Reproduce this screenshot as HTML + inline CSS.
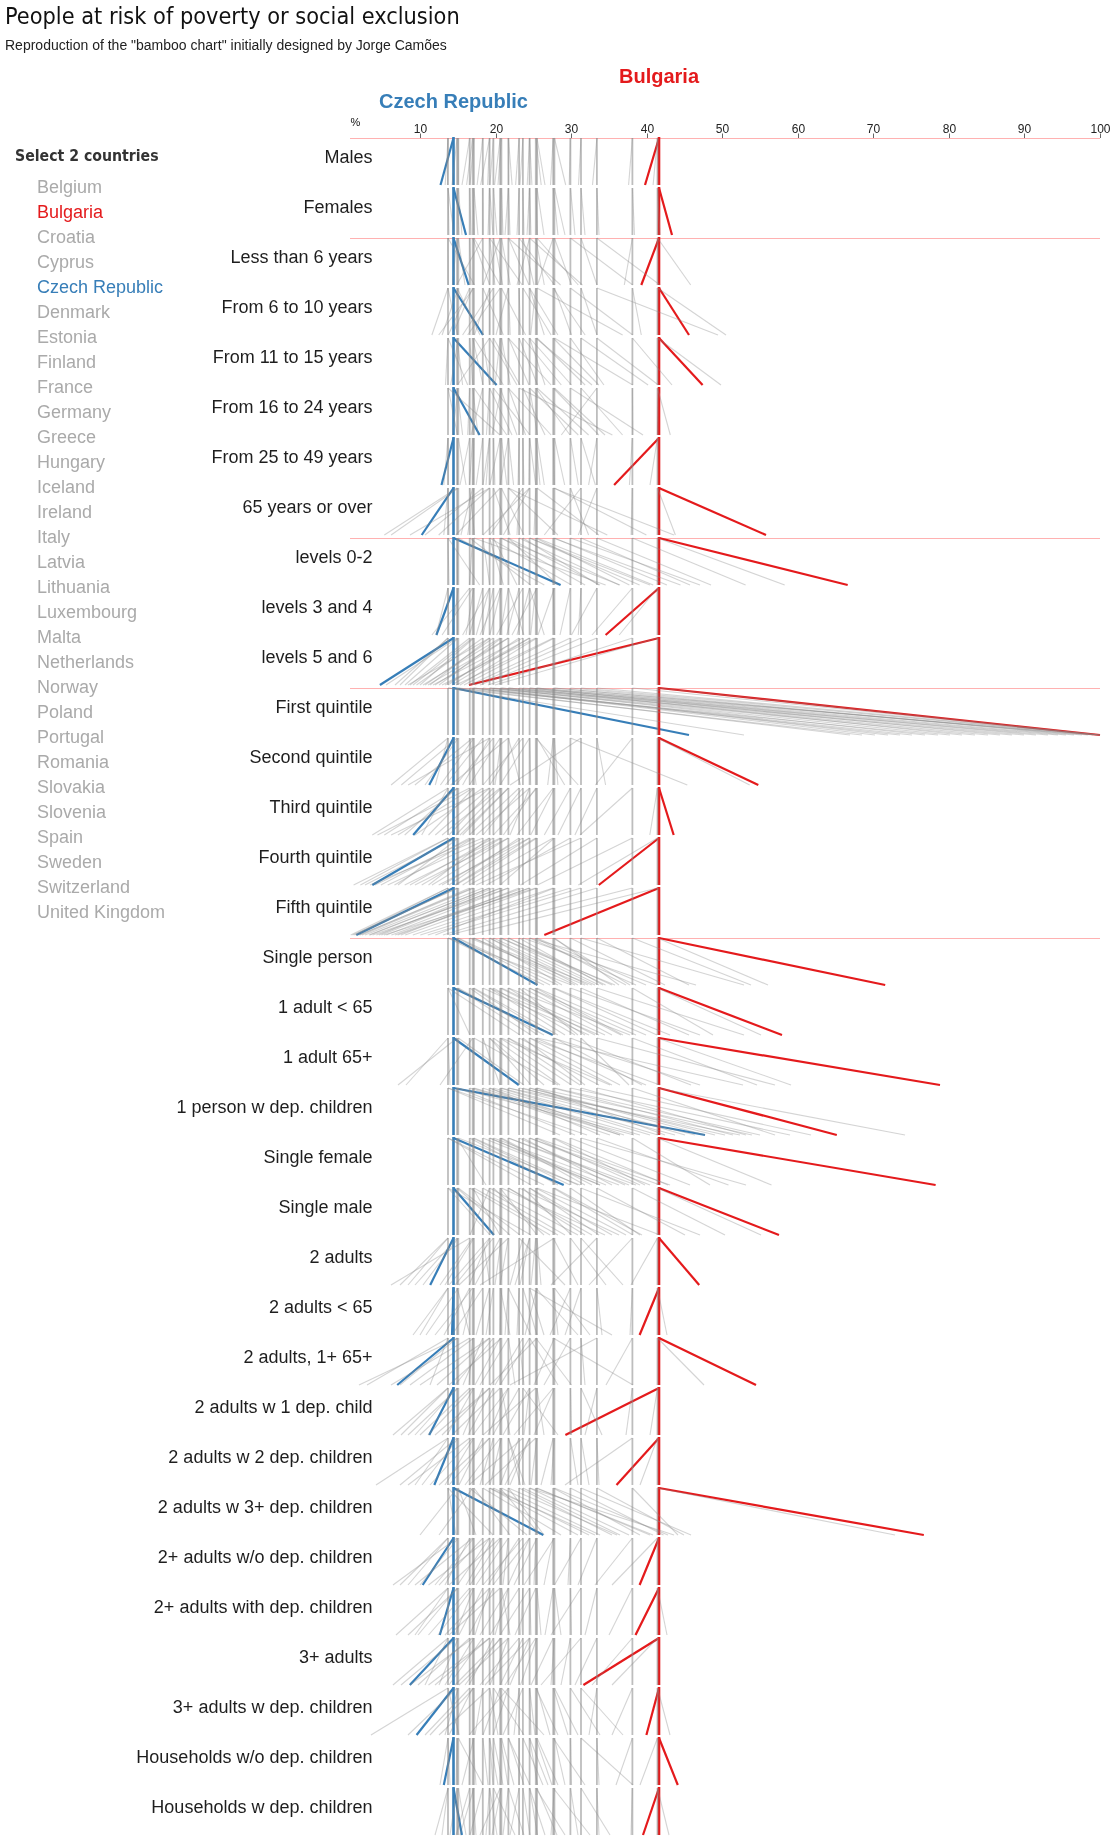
<!DOCTYPE html>
<html><head><meta charset="utf-8"><title>People at risk of poverty or social exclusion</title>
<style>
html,body{margin:0;padding:0;background:#fff;width:1116px;height:1843px;overflow:hidden;position:relative;-webkit-font-smoothing:antialiased}
#wrap{position:absolute;left:0;top:0;width:1116px;height:1843px;will-change:transform}
.t{position:absolute;left:5px;top:0;font-family:"DejaVu Sans Condensed","DejaVu Sans",sans-serif;font-stretch:condensed;font-size:23.3px;color:#111;white-space:nowrap;line-height:1}
.s{position:absolute;left:5px;font-family:"Liberation Sans",Arial,sans-serif;font-size:14px;color:#222;white-space:nowrap;line-height:1}
.h{position:absolute;left:15px;font-family:"DejaVu Sans Condensed","DejaVu Sans",sans-serif;font-stretch:condensed;font-weight:bold;font-size:15.7px;color:#333;white-space:nowrap;line-height:1}
.c{position:absolute;left:37px;font-family:"Liberation Sans",Arial,sans-serif;font-size:18px;white-space:nowrap;line-height:1}
</style></head><body><div id="wrap">
<div class="t" style="top:3.7px">People at risk of poverty or social exclusion</div>
<div class="s" style="top:38px">Reproduction of the "bamboo chart" initially designed by Jorge Camões</div>
<div class="h" style="top:147.7px">Select 2 countries</div>
<div class="c" style="top:177.55px;color:#aaa">Belgium</div><div class="c" style="top:202.55px;color:#e41a1c">Bulgaria</div><div class="c" style="top:227.55px;color:#aaa">Croatia</div><div class="c" style="top:252.55px;color:#aaa">Cyprus</div><div class="c" style="top:277.55px;color:#377eb8">Czech Republic</div><div class="c" style="top:302.55px;color:#aaa">Denmark</div><div class="c" style="top:327.55px;color:#aaa">Estonia</div><div class="c" style="top:352.55px;color:#aaa">Finland</div><div class="c" style="top:377.55px;color:#aaa">France</div><div class="c" style="top:402.55px;color:#aaa">Germany</div><div class="c" style="top:427.55px;color:#aaa">Greece</div><div class="c" style="top:452.55px;color:#aaa">Hungary</div><div class="c" style="top:477.55px;color:#aaa">Iceland</div><div class="c" style="top:502.55px;color:#aaa">Ireland</div><div class="c" style="top:527.55px;color:#aaa">Italy</div><div class="c" style="top:552.55px;color:#aaa">Latvia</div><div class="c" style="top:577.55px;color:#aaa">Lithuania</div><div class="c" style="top:602.55px;color:#aaa">Luxembourg</div><div class="c" style="top:627.55px;color:#aaa">Malta</div><div class="c" style="top:652.55px;color:#aaa">Netherlands</div><div class="c" style="top:677.55px;color:#aaa">Norway</div><div class="c" style="top:702.55px;color:#aaa">Poland</div><div class="c" style="top:727.55px;color:#aaa">Portugal</div><div class="c" style="top:752.55px;color:#aaa">Romania</div><div class="c" style="top:777.55px;color:#aaa">Slovakia</div><div class="c" style="top:802.55px;color:#aaa">Slovenia</div><div class="c" style="top:827.55px;color:#aaa">Spain</div><div class="c" style="top:852.55px;color:#aaa">Sweden</div><div class="c" style="top:877.55px;color:#aaa">Switzerland</div><div class="c" style="top:902.55px;color:#aaa">United Kingdom</div>
<svg width="1116" height="1843" viewBox="0 0 1116 1843" style="position:absolute;left:0;top:0">
<g font-family="Liberation Sans, Arial, sans-serif" font-size="12" fill="#222" text-anchor="middle">
<text x="420.50" y="133">10</text>
<text x="496.50" y="133">20</text>
<text x="571.50" y="133">30</text>
<text x="647.50" y="133">40</text>
<text x="722.50" y="133">50</text>
<text x="798.50" y="133">60</text>
<text x="873.50" y="133">70</text>
<text x="949.50" y="133">80</text>
<text x="1024.50" y="133">90</text>
<text x="1100.50" y="133">100</text>
</g>
<g stroke="#666" stroke-width="1">
<line x1="420.5" y1="133.5" x2="420.5" y2="138"/>
<line x1="496.5" y1="133.5" x2="496.5" y2="138"/>
<line x1="571.5" y1="133.5" x2="571.5" y2="138"/>
<line x1="647.5" y1="133.5" x2="647.5" y2="138"/>
<line x1="722.5" y1="133.5" x2="722.5" y2="138"/>
<line x1="798.5" y1="133.5" x2="798.5" y2="138"/>
<line x1="873.5" y1="133.5" x2="873.5" y2="138"/>
<line x1="949.5" y1="133.5" x2="949.5" y2="138"/>
<line x1="1024.5" y1="133.5" x2="1024.5" y2="138"/>
<line x1="1100.5" y1="133.5" x2="1100.5" y2="138"/>
</g>
<text x="350.6" y="126" font-family="Liberation Sans, Arial, sans-serif" font-size="11" fill="#111">%</text>
<line x1="350" y1="138.5" x2="1100" y2="138.5" stroke="#ffb1b1" stroke-width="1"/>
<line x1="350" y1="238.5" x2="1100" y2="238.5" stroke="#ffb1b1" stroke-width="1"/>
<line x1="350" y1="538.5" x2="1100" y2="538.5" stroke="#ffb1b1" stroke-width="1"/>
<line x1="350" y1="688.5" x2="1100" y2="688.5" stroke="#ffb1b1" stroke-width="1"/>
<line x1="350" y1="938.5" x2="1100" y2="938.5" stroke="#ffb1b1" stroke-width="1"/>
<g font-family="Liberation Sans, Arial, sans-serif" font-size="18" fill="#1e1e1e" text-anchor="end">
<text x="372.5" y="162.8">Males</text>
<text x="372.5" y="212.8">Females</text>
<text x="372.5" y="262.8">Less than 6 years</text>
<text x="372.5" y="312.8">From 6 to 10 years</text>
<text x="372.5" y="362.8">From 11 to 15 years</text>
<text x="372.5" y="412.8">From 16 to 24 years</text>
<text x="372.5" y="462.8">From 25 to 49 years</text>
<text x="372.5" y="512.8">65 years or over</text>
<text x="372.5" y="562.8">levels 0-2</text>
<text x="372.5" y="612.8">levels 3 and 4</text>
<text x="372.5" y="662.8">levels 5 and 6</text>
<text x="372.5" y="712.8">First quintile</text>
<text x="372.5" y="762.8">Second quintile</text>
<text x="372.5" y="812.8">Third quintile</text>
<text x="372.5" y="862.8">Fourth quintile</text>
<text x="372.5" y="912.8">Fifth quintile</text>
<text x="372.5" y="962.8">Single person</text>
<text x="372.5" y="1012.8">1 adult &lt; 65</text>
<text x="372.5" y="1062.8">1 adult 65+</text>
<text x="372.5" y="1112.8">1 person w dep. children</text>
<text x="372.5" y="1162.8">Single female</text>
<text x="372.5" y="1212.8">Single male</text>
<text x="372.5" y="1262.8">2 adults</text>
<text x="372.5" y="1312.8">2 adults &lt; 65</text>
<text x="372.5" y="1362.8">2 adults, 1+ 65+</text>
<text x="372.5" y="1412.8">2 adults w 1 dep. child</text>
<text x="372.5" y="1462.8">2 adults w 2 dep. children</text>
<text x="372.5" y="1512.8">2 adults w 3+ dep. children</text>
<text x="372.5" y="1562.8">2+ adults w/o dep. children</text>
<text x="372.5" y="1612.8">2+ adults with dep. children</text>
<text x="372.5" y="1662.8">3+ adults</text>
<text x="372.5" y="1712.8">3+ adults w dep. children</text>
<text x="372.5" y="1762.8">Households w/o dep. children</text>
<text x="372.5" y="1812.8">Households w dep. children</text>
</g>
<line x1="453.5" y1="138" x2="440.5" y2="185" stroke="#377eb8" stroke-width="2.2"/>
<line x1="453.5" y1="137" x2="453.5" y2="185" stroke="#377eb8" stroke-width="2.6"/>
<line x1="453.5" y1="188" x2="466" y2="235" stroke="#377eb8" stroke-width="2.2"/>
<line x1="453.5" y1="187" x2="453.5" y2="235" stroke="#377eb8" stroke-width="2.6"/>
<line x1="453.5" y1="238" x2="468.7" y2="285" stroke="#377eb8" stroke-width="2.2"/>
<line x1="453.5" y1="237" x2="453.5" y2="285" stroke="#377eb8" stroke-width="2.6"/>
<line x1="453.5" y1="288" x2="483" y2="335" stroke="#377eb8" stroke-width="2.2"/>
<line x1="453.5" y1="287" x2="453.5" y2="335" stroke="#377eb8" stroke-width="2.6"/>
<line x1="453.5" y1="338" x2="496.6" y2="385" stroke="#377eb8" stroke-width="2.2"/>
<line x1="453.5" y1="337" x2="453.5" y2="385" stroke="#377eb8" stroke-width="2.6"/>
<line x1="453.5" y1="388" x2="479.6" y2="435" stroke="#377eb8" stroke-width="2.2"/>
<line x1="453.5" y1="387" x2="453.5" y2="435" stroke="#377eb8" stroke-width="2.6"/>
<line x1="453.5" y1="438" x2="441.5" y2="485" stroke="#377eb8" stroke-width="2.2"/>
<line x1="453.5" y1="437" x2="453.5" y2="485" stroke="#377eb8" stroke-width="2.6"/>
<line x1="453.5" y1="488" x2="421.7" y2="535" stroke="#377eb8" stroke-width="2.2"/>
<line x1="453.5" y1="487" x2="453.5" y2="535" stroke="#377eb8" stroke-width="2.6"/>
<line x1="453.5" y1="538" x2="560.6" y2="585" stroke="#377eb8" stroke-width="2.2"/>
<line x1="453.5" y1="537" x2="453.5" y2="585" stroke="#377eb8" stroke-width="2.6"/>
<line x1="453.5" y1="588" x2="436.4" y2="635" stroke="#377eb8" stroke-width="2.2"/>
<line x1="453.5" y1="587" x2="453.5" y2="635" stroke="#377eb8" stroke-width="2.6"/>
<line x1="453.5" y1="638" x2="379.9" y2="685" stroke="#377eb8" stroke-width="2.2"/>
<line x1="453.5" y1="637" x2="453.5" y2="685" stroke="#377eb8" stroke-width="2.6"/>
<line x1="453.5" y1="688" x2="689" y2="735" stroke="#377eb8" stroke-width="2.2"/>
<line x1="453.5" y1="687" x2="453.5" y2="735" stroke="#377eb8" stroke-width="2.6"/>
<line x1="453.5" y1="738" x2="429.2" y2="785" stroke="#377eb8" stroke-width="2.2"/>
<line x1="453.5" y1="737" x2="453.5" y2="785" stroke="#377eb8" stroke-width="2.6"/>
<line x1="453.5" y1="788" x2="413.2" y2="835" stroke="#377eb8" stroke-width="2.2"/>
<line x1="453.5" y1="787" x2="453.5" y2="835" stroke="#377eb8" stroke-width="2.6"/>
<line x1="453.5" y1="838" x2="372.3" y2="885" stroke="#377eb8" stroke-width="2.2"/>
<line x1="453.5" y1="837" x2="453.5" y2="885" stroke="#377eb8" stroke-width="2.6"/>
<line x1="453.5" y1="888" x2="356.3" y2="935" stroke="#377eb8" stroke-width="2.2"/>
<line x1="453.5" y1="887" x2="453.5" y2="935" stroke="#377eb8" stroke-width="2.6"/>
<line x1="453.5" y1="938" x2="537.5" y2="985" stroke="#377eb8" stroke-width="2.2"/>
<line x1="453.5" y1="937" x2="453.5" y2="985" stroke="#377eb8" stroke-width="2.6"/>
<line x1="453.5" y1="988" x2="552.8" y2="1035" stroke="#377eb8" stroke-width="2.2"/>
<line x1="453.5" y1="987" x2="453.5" y2="1035" stroke="#377eb8" stroke-width="2.6"/>
<line x1="453.5" y1="1038" x2="518.8" y2="1085" stroke="#377eb8" stroke-width="2.2"/>
<line x1="453.5" y1="1037" x2="453.5" y2="1085" stroke="#377eb8" stroke-width="2.6"/>
<line x1="453.5" y1="1088" x2="705" y2="1135" stroke="#377eb8" stroke-width="2.2"/>
<line x1="453.5" y1="1087" x2="453.5" y2="1135" stroke="#377eb8" stroke-width="2.6"/>
<line x1="453.5" y1="1138" x2="563.7" y2="1185" stroke="#377eb8" stroke-width="2.2"/>
<line x1="453.5" y1="1137" x2="453.5" y2="1185" stroke="#377eb8" stroke-width="2.6"/>
<line x1="453.5" y1="1188" x2="493.9" y2="1235" stroke="#377eb8" stroke-width="2.2"/>
<line x1="453.5" y1="1187" x2="453.5" y2="1235" stroke="#377eb8" stroke-width="2.6"/>
<line x1="453.5" y1="1238" x2="430.2" y2="1285" stroke="#377eb8" stroke-width="2.2"/>
<line x1="453.5" y1="1237" x2="453.5" y2="1285" stroke="#377eb8" stroke-width="2.6"/>
<line x1="453.5" y1="1288" x2="452" y2="1335" stroke="#377eb8" stroke-width="2.2"/>
<line x1="453.5" y1="1287" x2="453.5" y2="1335" stroke="#377eb8" stroke-width="2.6"/>
<line x1="453.5" y1="1338" x2="397.2" y2="1385" stroke="#377eb8" stroke-width="2.2"/>
<line x1="453.5" y1="1337" x2="453.5" y2="1385" stroke="#377eb8" stroke-width="2.6"/>
<line x1="453.5" y1="1388" x2="429.2" y2="1435" stroke="#377eb8" stroke-width="2.2"/>
<line x1="453.5" y1="1387" x2="453.5" y2="1435" stroke="#377eb8" stroke-width="2.6"/>
<line x1="453.5" y1="1438" x2="434.3" y2="1485" stroke="#377eb8" stroke-width="2.2"/>
<line x1="453.5" y1="1437" x2="453.5" y2="1485" stroke="#377eb8" stroke-width="2.6"/>
<line x1="453.5" y1="1488" x2="543.3" y2="1535" stroke="#377eb8" stroke-width="2.2"/>
<line x1="453.5" y1="1487" x2="453.5" y2="1535" stroke="#377eb8" stroke-width="2.6"/>
<line x1="453.5" y1="1538" x2="422.7" y2="1585" stroke="#377eb8" stroke-width="2.2"/>
<line x1="453.5" y1="1537" x2="453.5" y2="1585" stroke="#377eb8" stroke-width="2.6"/>
<line x1="453.5" y1="1588" x2="439.8" y2="1635" stroke="#377eb8" stroke-width="2.2"/>
<line x1="453.5" y1="1587" x2="453.5" y2="1635" stroke="#377eb8" stroke-width="2.6"/>
<line x1="453.5" y1="1638" x2="409.8" y2="1685" stroke="#377eb8" stroke-width="2.2"/>
<line x1="453.5" y1="1637" x2="453.5" y2="1685" stroke="#377eb8" stroke-width="2.6"/>
<line x1="453.5" y1="1688" x2="416.6" y2="1735" stroke="#377eb8" stroke-width="2.2"/>
<line x1="453.5" y1="1687" x2="453.5" y2="1735" stroke="#377eb8" stroke-width="2.6"/>
<line x1="453.5" y1="1738" x2="443.8" y2="1785" stroke="#377eb8" stroke-width="2.2"/>
<line x1="453.5" y1="1737" x2="453.5" y2="1785" stroke="#377eb8" stroke-width="2.6"/>
<line x1="453.5" y1="1788" x2="461.9" y2="1835" stroke="#377eb8" stroke-width="2.2"/>
<line x1="453.5" y1="1787" x2="453.5" y2="1835" stroke="#377eb8" stroke-width="2.6"/>
<line x1="659.0" y1="138" x2="645" y2="185" stroke="#e41a1c" stroke-width="2.2"/>
<line x1="659.0" y1="137" x2="659.0" y2="185" stroke="#e41a1c" stroke-width="2.6"/>
<line x1="659.0" y1="188" x2="672" y2="235" stroke="#e41a1c" stroke-width="2.2"/>
<line x1="659.0" y1="187" x2="659.0" y2="235" stroke="#e41a1c" stroke-width="2.6"/>
<line x1="659.0" y1="238" x2="641.3" y2="285" stroke="#e41a1c" stroke-width="2.2"/>
<line x1="659.0" y1="237" x2="659.0" y2="285" stroke="#e41a1c" stroke-width="2.6"/>
<line x1="659.0" y1="288" x2="689" y2="335" stroke="#e41a1c" stroke-width="2.2"/>
<line x1="659.0" y1="287" x2="659.0" y2="335" stroke="#e41a1c" stroke-width="2.6"/>
<line x1="659.0" y1="338" x2="702.6" y2="385" stroke="#e41a1c" stroke-width="2.2"/>
<line x1="659.0" y1="337" x2="659.0" y2="385" stroke="#e41a1c" stroke-width="2.6"/>
<line x1="659.0" y1="388" x2="658.4" y2="435" stroke="#e41a1c" stroke-width="2.2"/>
<line x1="659.0" y1="387" x2="659.0" y2="435" stroke="#e41a1c" stroke-width="2.6"/>
<line x1="659.0" y1="438" x2="614.1" y2="485" stroke="#e41a1c" stroke-width="2.2"/>
<line x1="659.0" y1="437" x2="659.0" y2="485" stroke="#e41a1c" stroke-width="2.6"/>
<line x1="659.0" y1="488" x2="766" y2="535" stroke="#e41a1c" stroke-width="2.2"/>
<line x1="659.0" y1="487" x2="659.0" y2="535" stroke="#e41a1c" stroke-width="2.6"/>
<line x1="659.0" y1="538" x2="847.7" y2="585" stroke="#e41a1c" stroke-width="2.2"/>
<line x1="659.0" y1="537" x2="659.0" y2="585" stroke="#e41a1c" stroke-width="2.6"/>
<line x1="659.0" y1="588" x2="605.6" y2="635" stroke="#e41a1c" stroke-width="2.2"/>
<line x1="659.0" y1="587" x2="659.0" y2="635" stroke="#e41a1c" stroke-width="2.6"/>
<line x1="659.0" y1="638" x2="469" y2="685" stroke="#e41a1c" stroke-width="2.2"/>
<line x1="659.0" y1="637" x2="659.0" y2="685" stroke="#e41a1c" stroke-width="2.6"/>
<line x1="659.0" y1="688" x2="1100" y2="735" stroke="#e41a1c" stroke-width="2.2"/>
<line x1="659.0" y1="687" x2="659.0" y2="735" stroke="#e41a1c" stroke-width="2.6"/>
<line x1="659.0" y1="738" x2="758.3" y2="785" stroke="#e41a1c" stroke-width="2.2"/>
<line x1="659.0" y1="737" x2="659.0" y2="785" stroke="#e41a1c" stroke-width="2.6"/>
<line x1="659.0" y1="788" x2="673.7" y2="835" stroke="#e41a1c" stroke-width="2.2"/>
<line x1="659.0" y1="787" x2="659.0" y2="835" stroke="#e41a1c" stroke-width="2.6"/>
<line x1="659.0" y1="838" x2="598.8" y2="885" stroke="#e41a1c" stroke-width="2.2"/>
<line x1="659.0" y1="837" x2="659.0" y2="885" stroke="#e41a1c" stroke-width="2.6"/>
<line x1="659.0" y1="888" x2="544.3" y2="935" stroke="#e41a1c" stroke-width="2.2"/>
<line x1="659.0" y1="887" x2="659.0" y2="935" stroke="#e41a1c" stroke-width="2.6"/>
<line x1="659.0" y1="938" x2="885.2" y2="985" stroke="#e41a1c" stroke-width="2.2"/>
<line x1="659.0" y1="937" x2="659.0" y2="985" stroke="#e41a1c" stroke-width="2.6"/>
<line x1="659.0" y1="988" x2="782" y2="1035" stroke="#e41a1c" stroke-width="2.2"/>
<line x1="659.0" y1="987" x2="659.0" y2="1035" stroke="#e41a1c" stroke-width="2.6"/>
<line x1="659.0" y1="1038" x2="940" y2="1085" stroke="#e41a1c" stroke-width="2.2"/>
<line x1="659.0" y1="1037" x2="659.0" y2="1085" stroke="#e41a1c" stroke-width="2.6"/>
<line x1="659.0" y1="1088" x2="836.8" y2="1135" stroke="#e41a1c" stroke-width="2.2"/>
<line x1="659.0" y1="1087" x2="659.0" y2="1135" stroke="#e41a1c" stroke-width="2.6"/>
<line x1="659.0" y1="1138" x2="935.6" y2="1185" stroke="#e41a1c" stroke-width="2.2"/>
<line x1="659.0" y1="1137" x2="659.0" y2="1185" stroke="#e41a1c" stroke-width="2.6"/>
<line x1="659.0" y1="1188" x2="779" y2="1235" stroke="#e41a1c" stroke-width="2.2"/>
<line x1="659.0" y1="1187" x2="659.0" y2="1235" stroke="#e41a1c" stroke-width="2.6"/>
<line x1="659.0" y1="1238" x2="699.2" y2="1285" stroke="#e41a1c" stroke-width="2.2"/>
<line x1="659.0" y1="1237" x2="659.0" y2="1285" stroke="#e41a1c" stroke-width="2.6"/>
<line x1="659.0" y1="1288" x2="639.6" y2="1335" stroke="#e41a1c" stroke-width="2.2"/>
<line x1="659.0" y1="1287" x2="659.0" y2="1335" stroke="#e41a1c" stroke-width="2.6"/>
<line x1="659.0" y1="1338" x2="756" y2="1385" stroke="#e41a1c" stroke-width="2.2"/>
<line x1="659.0" y1="1337" x2="659.0" y2="1385" stroke="#e41a1c" stroke-width="2.6"/>
<line x1="659.0" y1="1388" x2="565.4" y2="1435" stroke="#e41a1c" stroke-width="2.2"/>
<line x1="659.0" y1="1387" x2="659.0" y2="1435" stroke="#e41a1c" stroke-width="2.6"/>
<line x1="659.0" y1="1438" x2="616.5" y2="1485" stroke="#e41a1c" stroke-width="2.2"/>
<line x1="659.0" y1="1437" x2="659.0" y2="1485" stroke="#e41a1c" stroke-width="2.6"/>
<line x1="659.0" y1="1488" x2="923.8" y2="1535" stroke="#e41a1c" stroke-width="2.2"/>
<line x1="659.0" y1="1487" x2="659.0" y2="1535" stroke="#e41a1c" stroke-width="2.6"/>
<line x1="659.0" y1="1538" x2="639.6" y2="1585" stroke="#e41a1c" stroke-width="2.2"/>
<line x1="659.0" y1="1537" x2="659.0" y2="1585" stroke="#e41a1c" stroke-width="2.6"/>
<line x1="659.0" y1="1588" x2="635.5" y2="1635" stroke="#e41a1c" stroke-width="2.2"/>
<line x1="659.0" y1="1587" x2="659.0" y2="1635" stroke="#e41a1c" stroke-width="2.6"/>
<line x1="659.0" y1="1638" x2="583.4" y2="1685" stroke="#e41a1c" stroke-width="2.2"/>
<line x1="659.0" y1="1637" x2="659.0" y2="1685" stroke="#e41a1c" stroke-width="2.6"/>
<line x1="659.0" y1="1688" x2="646.4" y2="1735" stroke="#e41a1c" stroke-width="2.2"/>
<line x1="659.0" y1="1687" x2="659.0" y2="1735" stroke="#e41a1c" stroke-width="2.6"/>
<line x1="659.0" y1="1738" x2="677.8" y2="1785" stroke="#e41a1c" stroke-width="2.2"/>
<line x1="659.0" y1="1737" x2="659.0" y2="1785" stroke="#e41a1c" stroke-width="2.6"/>
<line x1="659.0" y1="1788" x2="643" y2="1835" stroke="#e41a1c" stroke-width="2.2"/>
<line x1="659.0" y1="1787" x2="659.0" y2="1835" stroke="#e41a1c" stroke-width="2.6"/>
<g stroke="#888" stroke-opacity="0.36" stroke-width="1.1" fill="none">
<line x1="448.0" y1="138" x2="445.2" y2="185"/>
<line x1="448.0" y1="138" x2="447.5" y2="185"/>
<line x1="457.1" y1="138" x2="452" y2="185"/>
<line x1="458.3" y1="138" x2="458.5" y2="185"/>
<line x1="469.7" y1="138" x2="462" y2="185"/>
<line x1="472.7" y1="138" x2="466.6" y2="185"/>
<line x1="473.9" y1="138" x2="470" y2="185"/>
<line x1="482.8" y1="138" x2="477.1" y2="185"/>
<line x1="489.6" y1="138" x2="480.6" y2="185"/>
<line x1="489.6" y1="138" x2="487.6" y2="185"/>
<line x1="493.4" y1="138" x2="489.9" y2="185"/>
<line x1="500.2" y1="138" x2="494.6" y2="185"/>
<line x1="501.4" y1="138" x2="498" y2="185"/>
<line x1="508.4" y1="138" x2="508.6" y2="185"/>
<line x1="508.4" y1="138" x2="512.1" y2="185"/>
<line x1="519.1" y1="138" x2="515.6" y2="185"/>
<line x1="522.9" y1="138" x2="520" y2="185"/>
<line x1="529.6" y1="138" x2="527.2" y2="185"/>
<line x1="529.6" y1="138" x2="531.9" y2="185"/>
<line x1="535.8" y1="138" x2="541.2" y2="185"/>
<line x1="537.0" y1="138" x2="545" y2="185"/>
<line x1="553.2" y1="138" x2="550.5" y2="185"/>
<line x1="554.4" y1="138" x2="565.7" y2="185"/>
<line x1="570.4" y1="138" x2="569.2" y2="185"/>
<line x1="581.0" y1="138" x2="578.5" y2="185"/>
<line x1="596.9" y1="138" x2="592.5" y2="185"/>
<line x1="632.4" y1="138" x2="628.6" y2="185"/>
<line x1="657.5" y1="138" x2="653.1" y2="185"/>
<line x1="448.0" y1="188" x2="449" y2="235"/>
<line x1="448.0" y1="188" x2="454" y2="235"/>
<line x1="457.1" y1="188" x2="459" y2="235"/>
<line x1="458.3" y1="188" x2="462" y2="235"/>
<line x1="469.7" y1="188" x2="471" y2="235"/>
<line x1="472.7" y1="188" x2="474.5" y2="235"/>
<line x1="473.9" y1="188" x2="478" y2="235"/>
<line x1="482.8" y1="188" x2="483" y2="235"/>
<line x1="489.6" y1="188" x2="488" y2="235"/>
<line x1="489.6" y1="188" x2="493" y2="235"/>
<line x1="493.4" y1="188" x2="497" y2="235"/>
<line x1="500.2" y1="188" x2="500" y2="235"/>
<line x1="501.4" y1="188" x2="503" y2="235"/>
<line x1="508.4" y1="188" x2="505" y2="235"/>
<line x1="508.4" y1="188" x2="510" y2="235"/>
<line x1="519.1" y1="188" x2="517" y2="235"/>
<line x1="522.9" y1="188" x2="524" y2="235"/>
<line x1="529.6" y1="188" x2="527" y2="235"/>
<line x1="529.6" y1="188" x2="531" y2="235"/>
<line x1="535.8" y1="188" x2="537.5" y2="235"/>
<line x1="537.0" y1="188" x2="544" y2="235"/>
<line x1="553.2" y1="188" x2="558" y2="235"/>
<line x1="554.4" y1="188" x2="565" y2="235"/>
<line x1="570.4" y1="188" x2="575" y2="235"/>
<line x1="581.0" y1="188" x2="585" y2="235"/>
<line x1="596.9" y1="188" x2="599" y2="235"/>
<line x1="632.4" y1="188" x2="634.5" y2="235"/>
<line x1="657.5" y1="188" x2="660" y2="235"/>
<line x1="448.0" y1="238" x2="474.5" y2="285"/>
<line x1="448.0" y1="238" x2="448.3" y2="285"/>
<line x1="457.1" y1="238" x2="452.4" y2="285"/>
<line x1="458.3" y1="238" x2="465" y2="285"/>
<line x1="469.7" y1="238" x2="471" y2="285"/>
<line x1="472.7" y1="238" x2="489.8" y2="285"/>
<line x1="473.9" y1="238" x2="500" y2="285"/>
<line x1="482.8" y1="238" x2="456.7" y2="285"/>
<line x1="489.6" y1="238" x2="494.9" y2="285"/>
<line x1="489.6" y1="238" x2="522.2" y2="285"/>
<line x1="493.4" y1="238" x2="502.7" y2="285"/>
<line x1="500.2" y1="238" x2="483" y2="285"/>
<line x1="501.4" y1="238" x2="510.2" y2="285"/>
<line x1="508.4" y1="238" x2="529" y2="285"/>
<line x1="508.4" y1="238" x2="560.6" y2="285"/>
<line x1="519.1" y1="238" x2="554.5" y2="285"/>
<line x1="522.9" y1="238" x2="534" y2="285"/>
<line x1="529.6" y1="238" x2="517" y2="285"/>
<line x1="529.6" y1="238" x2="582.4" y2="285"/>
<line x1="535.8" y1="238" x2="544.3" y2="285"/>
<line x1="537.0" y1="238" x2="578.3" y2="285"/>
<line x1="553.2" y1="238" x2="537.5" y2="285"/>
<line x1="554.4" y1="238" x2="571.5" y2="285"/>
<line x1="570.4" y1="238" x2="632.8" y2="285"/>
<line x1="581.0" y1="238" x2="597" y2="285"/>
<line x1="596.9" y1="238" x2="660" y2="285"/>
<line x1="632.4" y1="238" x2="624.3" y2="285"/>
<line x1="657.5" y1="238" x2="690.7" y2="285"/>
<line x1="448.0" y1="288" x2="457.5" y2="335"/>
<line x1="448.0" y1="288" x2="431.9" y2="335"/>
<line x1="457.1" y1="288" x2="480" y2="335"/>
<line x1="458.3" y1="288" x2="442.1" y2="335"/>
<line x1="469.7" y1="288" x2="448.3" y2="335"/>
<line x1="472.7" y1="288" x2="452.4" y2="335"/>
<line x1="473.9" y1="288" x2="438.7" y2="335"/>
<line x1="482.8" y1="288" x2="503.4" y2="335"/>
<line x1="489.6" y1="288" x2="489.8" y2="335"/>
<line x1="489.6" y1="288" x2="474.5" y2="335"/>
<line x1="493.4" y1="288" x2="462.6" y2="335"/>
<line x1="500.2" y1="288" x2="467.7" y2="335"/>
<line x1="501.4" y1="288" x2="525.6" y2="335"/>
<line x1="508.4" y1="288" x2="510.2" y2="335"/>
<line x1="508.4" y1="288" x2="496" y2="335"/>
<line x1="519.1" y1="288" x2="520.5" y2="335"/>
<line x1="522.9" y1="288" x2="551.1" y2="335"/>
<line x1="529.6" y1="288" x2="544.3" y2="335"/>
<line x1="529.6" y1="288" x2="557.9" y2="335"/>
<line x1="535.8" y1="288" x2="530.7" y2="335"/>
<line x1="537.0" y1="288" x2="622.6" y2="335"/>
<line x1="553.2" y1="288" x2="585.1" y2="335"/>
<line x1="554.4" y1="288" x2="571.5" y2="335"/>
<line x1="570.4" y1="288" x2="632.8" y2="335"/>
<line x1="581.0" y1="288" x2="597" y2="335"/>
<line x1="596.9" y1="288" x2="718" y2="335"/>
<line x1="632.4" y1="288" x2="641.3" y2="335"/>
<line x1="657.5" y1="288" x2="726" y2="335"/>
<line x1="448.0" y1="338" x2="445.5" y2="385"/>
<line x1="448.0" y1="338" x2="467.7" y2="385"/>
<line x1="457.1" y1="338" x2="462.6" y2="385"/>
<line x1="458.3" y1="338" x2="450.7" y2="385"/>
<line x1="469.7" y1="338" x2="472.8" y2="385"/>
<line x1="472.7" y1="338" x2="483" y2="385"/>
<line x1="473.9" y1="338" x2="503.4" y2="385"/>
<line x1="482.8" y1="338" x2="489.8" y2="385"/>
<line x1="489.6" y1="338" x2="457.5" y2="385"/>
<line x1="489.6" y1="338" x2="517" y2="385"/>
<line x1="493.4" y1="338" x2="520" y2="385"/>
<line x1="500.2" y1="338" x2="495" y2="385"/>
<line x1="501.4" y1="338" x2="510.2" y2="385"/>
<line x1="508.4" y1="338" x2="529" y2="385"/>
<line x1="508.4" y1="338" x2="551.1" y2="385"/>
<line x1="519.1" y1="338" x2="537.5" y2="385"/>
<line x1="522.9" y1="338" x2="561.3" y2="385"/>
<line x1="529.6" y1="338" x2="545" y2="385"/>
<line x1="529.6" y1="338" x2="571.5" y2="385"/>
<line x1="535.8" y1="338" x2="592" y2="385"/>
<line x1="537.0" y1="338" x2="585.1" y2="385"/>
<line x1="553.2" y1="338" x2="598.8" y2="385"/>
<line x1="554.4" y1="338" x2="632.8" y2="385"/>
<line x1="570.4" y1="338" x2="603.9" y2="385"/>
<line x1="581.0" y1="338" x2="648.1" y2="385"/>
<line x1="596.9" y1="338" x2="658.4" y2="385"/>
<line x1="632.4" y1="338" x2="672" y2="385"/>
<line x1="657.5" y1="338" x2="721" y2="385"/>
<line x1="448.0" y1="388" x2="457.5" y2="435"/>
<line x1="448.0" y1="388" x2="500" y2="435"/>
<line x1="457.1" y1="388" x2="462.6" y2="435"/>
<line x1="458.3" y1="388" x2="452.4" y2="435"/>
<line x1="469.7" y1="388" x2="467.7" y2="435"/>
<line x1="472.7" y1="388" x2="478" y2="435"/>
<line x1="473.9" y1="388" x2="506.8" y2="435"/>
<line x1="482.8" y1="388" x2="471.1" y2="435"/>
<line x1="489.6" y1="388" x2="486.4" y2="435"/>
<line x1="489.6" y1="388" x2="512" y2="435"/>
<line x1="493.4" y1="388" x2="530" y2="435"/>
<line x1="500.2" y1="388" x2="517" y2="435"/>
<line x1="501.4" y1="388" x2="492" y2="435"/>
<line x1="508.4" y1="388" x2="525.6" y2="435"/>
<line x1="508.4" y1="388" x2="551.1" y2="435"/>
<line x1="519.1" y1="388" x2="612.4" y2="435"/>
<line x1="522.9" y1="388" x2="545" y2="435"/>
<line x1="529.6" y1="388" x2="537.5" y2="435"/>
<line x1="529.6" y1="388" x2="578.3" y2="435"/>
<line x1="535.8" y1="388" x2="570" y2="435"/>
<line x1="537.0" y1="388" x2="588.6" y2="435"/>
<line x1="553.2" y1="388" x2="598.8" y2="435"/>
<line x1="554.4" y1="388" x2="605" y2="435"/>
<line x1="570.4" y1="388" x2="643" y2="435"/>
<line x1="581.0" y1="388" x2="622.6" y2="435"/>
<line x1="596.9" y1="388" x2="561.3" y2="435"/>
<line x1="632.4" y1="388" x2="632.8" y2="435"/>
<line x1="657.5" y1="388" x2="670.3" y2="435"/>
<line x1="448.0" y1="438" x2="443.8" y2="485"/>
<line x1="448.0" y1="438" x2="448.3" y2="485"/>
<line x1="457.1" y1="438" x2="457.5" y2="485"/>
<line x1="458.3" y1="438" x2="466" y2="485"/>
<line x1="469.7" y1="438" x2="460" y2="485"/>
<line x1="472.7" y1="438" x2="469.4" y2="485"/>
<line x1="473.9" y1="438" x2="472.8" y2="485"/>
<line x1="482.8" y1="438" x2="476.2" y2="485"/>
<line x1="489.6" y1="438" x2="486" y2="485"/>
<line x1="489.6" y1="438" x2="483" y2="485"/>
<line x1="493.4" y1="438" x2="494.9" y2="485"/>
<line x1="500.2" y1="438" x2="489.8" y2="485"/>
<line x1="501.4" y1="438" x2="506.8" y2="485"/>
<line x1="508.4" y1="438" x2="500" y2="485"/>
<line x1="508.4" y1="438" x2="513.6" y2="485"/>
<line x1="519.1" y1="438" x2="518" y2="485"/>
<line x1="522.9" y1="438" x2="523.9" y2="485"/>
<line x1="529.6" y1="438" x2="529" y2="485"/>
<line x1="529.6" y1="438" x2="535.8" y2="485"/>
<line x1="535.8" y1="438" x2="540" y2="485"/>
<line x1="537.0" y1="438" x2="544.3" y2="485"/>
<line x1="553.2" y1="438" x2="554.5" y2="485"/>
<line x1="554.4" y1="438" x2="564.7" y2="485"/>
<line x1="570.4" y1="438" x2="578.3" y2="485"/>
<line x1="581.0" y1="438" x2="595.4" y2="485"/>
<line x1="596.9" y1="438" x2="588.6" y2="485"/>
<line x1="632.4" y1="438" x2="629.4" y2="485"/>
<line x1="657.5" y1="438" x2="650" y2="485"/>
<line x1="448.0" y1="488" x2="443.8" y2="535"/>
<line x1="448.0" y1="488" x2="449" y2="535"/>
<line x1="457.1" y1="488" x2="384.3" y2="535"/>
<line x1="458.3" y1="488" x2="391.1" y2="535"/>
<line x1="469.7" y1="488" x2="474.5" y2="535"/>
<line x1="472.7" y1="488" x2="460.9" y2="535"/>
<line x1="473.9" y1="488" x2="467.7" y2="535"/>
<line x1="482.8" y1="488" x2="425" y2="535"/>
<line x1="489.6" y1="488" x2="410" y2="535"/>
<line x1="489.6" y1="488" x2="438.7" y2="535"/>
<line x1="493.4" y1="488" x2="510.2" y2="535"/>
<line x1="500.2" y1="488" x2="455.8" y2="535"/>
<line x1="501.4" y1="488" x2="523.9" y2="535"/>
<line x1="508.4" y1="488" x2="607.3" y2="535"/>
<line x1="508.4" y1="488" x2="557.9" y2="535"/>
<line x1="519.1" y1="488" x2="517" y2="535"/>
<line x1="522.9" y1="488" x2="489.8" y2="535"/>
<line x1="529.6" y1="488" x2="483" y2="535"/>
<line x1="529.6" y1="488" x2="503.4" y2="535"/>
<line x1="535.8" y1="488" x2="534" y2="535"/>
<line x1="537.0" y1="488" x2="598.8" y2="535"/>
<line x1="553.2" y1="488" x2="674" y2="535"/>
<line x1="554.4" y1="488" x2="646.4" y2="535"/>
<line x1="570.4" y1="488" x2="588.6" y2="535"/>
<line x1="581.0" y1="488" x2="544.3" y2="535"/>
<line x1="596.9" y1="488" x2="578.3" y2="535"/>
<line x1="632.4" y1="488" x2="631.1" y2="535"/>
<line x1="657.5" y1="488" x2="675.4" y2="535"/>
<line x1="448.0" y1="538" x2="479.6" y2="585"/>
<line x1="448.0" y1="538" x2="449" y2="585"/>
<line x1="457.1" y1="538" x2="457.5" y2="585"/>
<line x1="458.3" y1="538" x2="544.3" y2="585"/>
<line x1="469.7" y1="538" x2="530.7" y2="585"/>
<line x1="472.7" y1="538" x2="469.4" y2="585"/>
<line x1="473.9" y1="538" x2="605.6" y2="585"/>
<line x1="482.8" y1="538" x2="489.8" y2="585"/>
<line x1="489.6" y1="538" x2="503.4" y2="585"/>
<line x1="489.6" y1="538" x2="571.5" y2="585"/>
<line x1="493.4" y1="538" x2="517" y2="585"/>
<line x1="500.2" y1="538" x2="620" y2="585"/>
<line x1="501.4" y1="538" x2="585.1" y2="585"/>
<line x1="508.4" y1="538" x2="557.9" y2="585"/>
<line x1="508.4" y1="538" x2="600" y2="585"/>
<line x1="519.1" y1="538" x2="619.2" y2="585"/>
<line x1="522.9" y1="538" x2="598.8" y2="585"/>
<line x1="529.6" y1="538" x2="650" y2="585"/>
<line x1="529.6" y1="538" x2="639.6" y2="585"/>
<line x1="535.8" y1="538" x2="629.4" y2="585"/>
<line x1="537.0" y1="538" x2="653.2" y2="585"/>
<line x1="553.2" y1="538" x2="680.5" y2="585"/>
<line x1="554.4" y1="538" x2="666.9" y2="585"/>
<line x1="570.4" y1="538" x2="700" y2="585"/>
<line x1="581.0" y1="538" x2="690" y2="585"/>
<line x1="596.9" y1="538" x2="711" y2="585"/>
<line x1="632.4" y1="538" x2="745.6" y2="585"/>
<line x1="657.5" y1="538" x2="784.7" y2="585"/>
<line x1="448.0" y1="588" x2="449" y2="635"/>
<line x1="448.0" y1="588" x2="436" y2="635"/>
<line x1="457.1" y1="588" x2="457.5" y2="635"/>
<line x1="458.3" y1="588" x2="452" y2="635"/>
<line x1="469.7" y1="588" x2="431.9" y2="635"/>
<line x1="472.7" y1="588" x2="442.1" y2="635"/>
<line x1="473.9" y1="588" x2="466" y2="635"/>
<line x1="482.8" y1="588" x2="469.4" y2="635"/>
<line x1="489.6" y1="588" x2="462.6" y2="635"/>
<line x1="489.6" y1="588" x2="476.2" y2="635"/>
<line x1="493.4" y1="588" x2="483" y2="635"/>
<line x1="500.2" y1="588" x2="480" y2="635"/>
<line x1="501.4" y1="588" x2="489.8" y2="635"/>
<line x1="508.4" y1="588" x2="500" y2="635"/>
<line x1="508.4" y1="588" x2="523.9" y2="635"/>
<line x1="519.1" y1="588" x2="506.8" y2="635"/>
<line x1="522.9" y1="588" x2="496.6" y2="635"/>
<line x1="529.6" y1="588" x2="517" y2="635"/>
<line x1="529.6" y1="588" x2="544.3" y2="635"/>
<line x1="535.8" y1="588" x2="530.7" y2="635"/>
<line x1="537.0" y1="588" x2="512" y2="635"/>
<line x1="553.2" y1="588" x2="554.5" y2="635"/>
<line x1="554.4" y1="588" x2="538" y2="635"/>
<line x1="570.4" y1="588" x2="560" y2="635"/>
<line x1="581.0" y1="588" x2="578.3" y2="635"/>
<line x1="596.9" y1="588" x2="571.5" y2="635"/>
<line x1="632.4" y1="588" x2="592" y2="635"/>
<line x1="657.5" y1="588" x2="619.2" y2="635"/>
<line x1="448.0" y1="638" x2="395" y2="685"/>
<line x1="448.0" y1="638" x2="400" y2="685"/>
<line x1="457.1" y1="638" x2="386" y2="685"/>
<line x1="458.3" y1="638" x2="405" y2="685"/>
<line x1="469.7" y1="638" x2="410" y2="685"/>
<line x1="472.7" y1="638" x2="413" y2="685"/>
<line x1="473.9" y1="638" x2="420" y2="685"/>
<line x1="482.8" y1="638" x2="416.5" y2="685"/>
<line x1="489.6" y1="638" x2="408" y2="685"/>
<line x1="489.6" y1="638" x2="430" y2="685"/>
<line x1="493.4" y1="638" x2="425" y2="685"/>
<line x1="500.2" y1="638" x2="423" y2="685"/>
<line x1="501.4" y1="638" x2="439" y2="685"/>
<line x1="508.4" y1="638" x2="428" y2="685"/>
<line x1="508.4" y1="638" x2="435" y2="685"/>
<line x1="519.1" y1="638" x2="448" y2="685"/>
<line x1="522.9" y1="638" x2="433" y2="685"/>
<line x1="529.6" y1="638" x2="445" y2="685"/>
<line x1="529.6" y1="638" x2="452" y2="685"/>
<line x1="535.8" y1="638" x2="442" y2="685"/>
<line x1="537.0" y1="638" x2="460" y2="685"/>
<line x1="553.2" y1="638" x2="456" y2="685"/>
<line x1="554.4" y1="638" x2="464" y2="685"/>
<line x1="570.4" y1="638" x2="470" y2="685"/>
<line x1="581.0" y1="638" x2="475" y2="685"/>
<line x1="596.9" y1="638" x2="480" y2="685"/>
<line x1="632.4" y1="638" x2="488" y2="685"/>
<line x1="657.5" y1="638" x2="495" y2="685"/>
<line x1="448.0" y1="688" x2="862" y2="735"/>
<line x1="448.0" y1="688" x2="744" y2="735"/>
<line x1="457.1" y1="688" x2="850" y2="735"/>
<line x1="458.3" y1="688" x2="938" y2="735"/>
<line x1="469.7" y1="688" x2="900" y2="735"/>
<line x1="472.7" y1="688" x2="912" y2="735"/>
<line x1="473.9" y1="688" x2="875" y2="735"/>
<line x1="482.8" y1="688" x2="888" y2="735"/>
<line x1="489.6" y1="688" x2="975" y2="735"/>
<line x1="489.6" y1="688" x2="950" y2="735"/>
<line x1="493.4" y1="688" x2="925" y2="735"/>
<line x1="500.2" y1="688" x2="1012" y2="735"/>
<line x1="501.4" y1="688" x2="988" y2="735"/>
<line x1="508.4" y1="688" x2="1048" y2="735"/>
<line x1="508.4" y1="688" x2="1024" y2="735"/>
<line x1="519.1" y1="688" x2="962" y2="735"/>
<line x1="522.9" y1="688" x2="1058" y2="735"/>
<line x1="529.6" y1="688" x2="1000" y2="735"/>
<line x1="529.6" y1="688" x2="1036" y2="735"/>
<line x1="535.8" y1="688" x2="1066" y2="735"/>
<line x1="537.0" y1="688" x2="1093" y2="735"/>
<line x1="553.2" y1="688" x2="1082" y2="735"/>
<line x1="554.4" y1="688" x2="1088" y2="735"/>
<line x1="570.4" y1="688" x2="1074" y2="735"/>
<line x1="581.0" y1="688" x2="1097" y2="735"/>
<line x1="596.9" y1="688" x2="1100" y2="735"/>
<line x1="632.4" y1="688" x2="1100" y2="735"/>
<line x1="657.5" y1="688" x2="1100" y2="735"/>
<line x1="448.0" y1="738" x2="435.3" y2="785"/>
<line x1="448.0" y1="738" x2="391.1" y2="785"/>
<line x1="457.1" y1="738" x2="401.3" y2="785"/>
<line x1="458.3" y1="738" x2="425" y2="785"/>
<line x1="469.7" y1="738" x2="476.2" y2="785"/>
<line x1="472.7" y1="738" x2="414.9" y2="785"/>
<line x1="473.9" y1="738" x2="440.4" y2="785"/>
<line x1="482.8" y1="738" x2="445.5" y2="785"/>
<line x1="489.6" y1="738" x2="462.6" y2="785"/>
<line x1="489.6" y1="738" x2="408.1" y2="785"/>
<line x1="493.4" y1="738" x2="455.8" y2="785"/>
<line x1="500.2" y1="738" x2="469.4" y2="785"/>
<line x1="501.4" y1="738" x2="495" y2="785"/>
<line x1="508.4" y1="738" x2="450.7" y2="785"/>
<line x1="508.4" y1="738" x2="520.5" y2="785"/>
<line x1="519.1" y1="738" x2="489.8" y2="785"/>
<line x1="522.9" y1="738" x2="483" y2="785"/>
<line x1="529.6" y1="738" x2="530.7" y2="785"/>
<line x1="529.6" y1="738" x2="500" y2="785"/>
<line x1="535.8" y1="738" x2="578.3" y2="785"/>
<line x1="537.0" y1="738" x2="564.7" y2="785"/>
<line x1="553.2" y1="738" x2="547.7" y2="785"/>
<line x1="554.4" y1="738" x2="557.9" y2="785"/>
<line x1="570.4" y1="738" x2="687.3" y2="785"/>
<line x1="581.0" y1="738" x2="510.2" y2="785"/>
<line x1="596.9" y1="738" x2="605.6" y2="785"/>
<line x1="632.4" y1="738" x2="595.4" y2="785"/>
<line x1="657.5" y1="738" x2="749.7" y2="785"/>
<line x1="448.0" y1="788" x2="372.3" y2="835"/>
<line x1="448.0" y1="788" x2="421.7" y2="835"/>
<line x1="457.1" y1="788" x2="404.7" y2="835"/>
<line x1="458.3" y1="788" x2="384.3" y2="835"/>
<line x1="469.7" y1="788" x2="377.5" y2="835"/>
<line x1="472.7" y1="788" x2="397.9" y2="835"/>
<line x1="473.9" y1="788" x2="428.5" y2="835"/>
<line x1="482.8" y1="788" x2="415" y2="835"/>
<line x1="489.6" y1="788" x2="391.1" y2="835"/>
<line x1="489.6" y1="788" x2="435.3" y2="835"/>
<line x1="493.4" y1="788" x2="449" y2="835"/>
<line x1="500.2" y1="788" x2="442.1" y2="835"/>
<line x1="501.4" y1="788" x2="455.8" y2="835"/>
<line x1="508.4" y1="788" x2="460" y2="835"/>
<line x1="508.4" y1="788" x2="462.6" y2="835"/>
<line x1="519.1" y1="788" x2="469.4" y2="835"/>
<line x1="522.9" y1="788" x2="483" y2="835"/>
<line x1="529.6" y1="788" x2="476.2" y2="835"/>
<line x1="529.6" y1="788" x2="510" y2="835"/>
<line x1="535.8" y1="788" x2="503.4" y2="835"/>
<line x1="537.0" y1="788" x2="493.2" y2="835"/>
<line x1="553.2" y1="788" x2="517" y2="835"/>
<line x1="554.4" y1="788" x2="530.7" y2="835"/>
<line x1="570.4" y1="788" x2="544.3" y2="835"/>
<line x1="581.0" y1="788" x2="557.9" y2="835"/>
<line x1="596.9" y1="788" x2="574.9" y2="835"/>
<line x1="632.4" y1="788" x2="580" y2="835"/>
<line x1="657.5" y1="788" x2="649.8" y2="835"/>
<line x1="448.0" y1="838" x2="360.4" y2="885"/>
<line x1="448.0" y1="838" x2="353.6" y2="885"/>
<line x1="457.1" y1="838" x2="365" y2="885"/>
<line x1="458.3" y1="838" x2="398" y2="885"/>
<line x1="469.7" y1="838" x2="380.9" y2="885"/>
<line x1="472.7" y1="838" x2="375" y2="885"/>
<line x1="473.9" y1="838" x2="394.5" y2="885"/>
<line x1="482.8" y1="838" x2="370" y2="885"/>
<line x1="489.6" y1="838" x2="387.7" y2="885"/>
<line x1="489.6" y1="838" x2="428.5" y2="885"/>
<line x1="493.4" y1="838" x2="410" y2="885"/>
<line x1="500.2" y1="838" x2="404.7" y2="885"/>
<line x1="501.4" y1="838" x2="421.7" y2="885"/>
<line x1="508.4" y1="838" x2="432" y2="885"/>
<line x1="508.4" y1="838" x2="414.9" y2="885"/>
<line x1="519.1" y1="838" x2="449" y2="885"/>
<line x1="522.9" y1="838" x2="442.1" y2="885"/>
<line x1="529.6" y1="838" x2="455" y2="885"/>
<line x1="529.6" y1="838" x2="438.7" y2="885"/>
<line x1="535.8" y1="838" x2="455.8" y2="885"/>
<line x1="537.0" y1="838" x2="462.6" y2="885"/>
<line x1="553.2" y1="838" x2="469.4" y2="885"/>
<line x1="554.4" y1="838" x2="500" y2="885"/>
<line x1="570.4" y1="838" x2="486.4" y2="885"/>
<line x1="581.0" y1="838" x2="476.2" y2="885"/>
<line x1="596.9" y1="838" x2="520.5" y2="885"/>
<line x1="632.4" y1="838" x2="537.5" y2="885"/>
<line x1="657.5" y1="838" x2="578.3" y2="885"/>
<line x1="448.0" y1="888" x2="354.4" y2="935"/>
<line x1="448.0" y1="888" x2="350.7" y2="935"/>
<line x1="457.1" y1="888" x2="356" y2="935"/>
<line x1="458.3" y1="888" x2="352.5" y2="935"/>
<line x1="469.7" y1="888" x2="360" y2="935"/>
<line x1="472.7" y1="888" x2="358.8" y2="935"/>
<line x1="473.9" y1="888" x2="362" y2="935"/>
<line x1="482.8" y1="888" x2="365" y2="935"/>
<line x1="489.6" y1="888" x2="370" y2="935"/>
<line x1="489.6" y1="888" x2="368.9" y2="935"/>
<line x1="493.4" y1="888" x2="379" y2="935"/>
<line x1="500.2" y1="888" x2="381.4" y2="935"/>
<line x1="501.4" y1="888" x2="376.4" y2="935"/>
<line x1="508.4" y1="888" x2="386.4" y2="935"/>
<line x1="508.4" y1="888" x2="372.6" y2="935"/>
<line x1="519.1" y1="888" x2="401" y2="935"/>
<line x1="522.9" y1="888" x2="391.4" y2="935"/>
<line x1="529.6" y1="888" x2="397.7" y2="935"/>
<line x1="529.6" y1="888" x2="395" y2="935"/>
<line x1="535.8" y1="888" x2="384" y2="935"/>
<line x1="537.0" y1="888" x2="405.2" y2="935"/>
<line x1="553.2" y1="888" x2="412.8" y2="935"/>
<line x1="554.4" y1="888" x2="435.4" y2="935"/>
<line x1="570.4" y1="888" x2="420.3" y2="935"/>
<line x1="581.0" y1="888" x2="427.8" y2="935"/>
<line x1="596.9" y1="888" x2="442.9" y2="935"/>
<line x1="632.4" y1="888" x2="449" y2="935"/>
<line x1="657.5" y1="888" x2="469.4" y2="935"/>
<line x1="448.0" y1="938" x2="544" y2="985"/>
<line x1="448.0" y1="938" x2="571.5" y2="985"/>
<line x1="457.1" y1="938" x2="550" y2="985"/>
<line x1="458.3" y1="938" x2="558" y2="985"/>
<line x1="469.7" y1="938" x2="585" y2="985"/>
<line x1="472.7" y1="938" x2="592" y2="985"/>
<line x1="473.9" y1="938" x2="575" y2="985"/>
<line x1="482.8" y1="938" x2="562" y2="985"/>
<line x1="489.6" y1="938" x2="578" y2="985"/>
<line x1="489.6" y1="938" x2="588" y2="985"/>
<line x1="493.4" y1="938" x2="595" y2="985"/>
<line x1="500.2" y1="938" x2="615" y2="985"/>
<line x1="501.4" y1="938" x2="599" y2="985"/>
<line x1="508.4" y1="938" x2="605.6" y2="985"/>
<line x1="508.4" y1="938" x2="612" y2="985"/>
<line x1="519.1" y1="938" x2="603" y2="985"/>
<line x1="522.9" y1="938" x2="657" y2="985"/>
<line x1="529.6" y1="938" x2="636" y2="985"/>
<line x1="529.6" y1="938" x2="696" y2="985"/>
<line x1="535.8" y1="938" x2="626" y2="985"/>
<line x1="537.0" y1="938" x2="646" y2="985"/>
<line x1="553.2" y1="938" x2="630" y2="985"/>
<line x1="554.4" y1="938" x2="619" y2="985"/>
<line x1="570.4" y1="938" x2="665" y2="985"/>
<line x1="581.0" y1="938" x2="744" y2="985"/>
<line x1="596.9" y1="938" x2="689" y2="985"/>
<line x1="632.4" y1="938" x2="751" y2="985"/>
<line x1="657.5" y1="938" x2="768" y2="985"/>
<line x1="448.0" y1="988" x2="470" y2="1035"/>
<line x1="448.0" y1="988" x2="520" y2="1035"/>
<line x1="457.1" y1="988" x2="531" y2="1035"/>
<line x1="458.3" y1="988" x2="544" y2="1035"/>
<line x1="469.7" y1="988" x2="537.5" y2="1035"/>
<line x1="472.7" y1="988" x2="551" y2="1035"/>
<line x1="473.9" y1="988" x2="558" y2="1035"/>
<line x1="482.8" y1="988" x2="589" y2="1035"/>
<line x1="489.6" y1="988" x2="565" y2="1035"/>
<line x1="489.6" y1="988" x2="599" y2="1035"/>
<line x1="493.4" y1="988" x2="575" y2="1035"/>
<line x1="500.2" y1="988" x2="595" y2="1035"/>
<line x1="501.4" y1="988" x2="605" y2="1035"/>
<line x1="508.4" y1="988" x2="630" y2="1035"/>
<line x1="508.4" y1="988" x2="585" y2="1035"/>
<line x1="519.1" y1="988" x2="578" y2="1035"/>
<line x1="522.9" y1="988" x2="612" y2="1035"/>
<line x1="529.6" y1="988" x2="636" y2="1035"/>
<line x1="529.6" y1="988" x2="621" y2="1035"/>
<line x1="535.8" y1="988" x2="623" y2="1035"/>
<line x1="537.0" y1="988" x2="646" y2="1035"/>
<line x1="553.2" y1="988" x2="657" y2="1035"/>
<line x1="554.4" y1="988" x2="670" y2="1035"/>
<line x1="570.4" y1="988" x2="700" y2="1035"/>
<line x1="581.0" y1="988" x2="689" y2="1035"/>
<line x1="596.9" y1="988" x2="744" y2="1035"/>
<line x1="632.4" y1="988" x2="713" y2="1035"/>
<line x1="657.5" y1="988" x2="761" y2="1035"/>
<line x1="448.0" y1="1038" x2="450" y2="1085"/>
<line x1="448.0" y1="1038" x2="406" y2="1085"/>
<line x1="457.1" y1="1038" x2="398" y2="1085"/>
<line x1="458.3" y1="1038" x2="524" y2="1085"/>
<line x1="469.7" y1="1038" x2="470" y2="1085"/>
<line x1="472.7" y1="1038" x2="440" y2="1085"/>
<line x1="473.9" y1="1038" x2="558" y2="1085"/>
<line x1="482.8" y1="1038" x2="500" y2="1085"/>
<line x1="489.6" y1="1038" x2="531" y2="1085"/>
<line x1="489.6" y1="1038" x2="544" y2="1085"/>
<line x1="493.4" y1="1038" x2="560" y2="1085"/>
<line x1="500.2" y1="1038" x2="571.5" y2="1085"/>
<line x1="501.4" y1="1038" x2="610" y2="1085"/>
<line x1="508.4" y1="1038" x2="580" y2="1085"/>
<line x1="508.4" y1="1038" x2="599" y2="1085"/>
<line x1="519.1" y1="1038" x2="612" y2="1085"/>
<line x1="522.9" y1="1038" x2="585" y2="1085"/>
<line x1="529.6" y1="1038" x2="660" y2="1085"/>
<line x1="529.6" y1="1038" x2="620" y2="1085"/>
<line x1="535.8" y1="1038" x2="646" y2="1085"/>
<line x1="537.0" y1="1038" x2="743" y2="1085"/>
<line x1="553.2" y1="1038" x2="700" y2="1085"/>
<line x1="554.4" y1="1038" x2="642" y2="1085"/>
<line x1="570.4" y1="1038" x2="691" y2="1085"/>
<line x1="581.0" y1="1038" x2="629" y2="1085"/>
<line x1="596.9" y1="1038" x2="775" y2="1085"/>
<line x1="632.4" y1="1038" x2="757" y2="1085"/>
<line x1="657.5" y1="1038" x2="791" y2="1085"/>
<line x1="448.0" y1="1088" x2="560" y2="1135"/>
<line x1="448.0" y1="1088" x2="587" y2="1135"/>
<line x1="457.1" y1="1088" x2="634" y2="1135"/>
<line x1="458.3" y1="1088" x2="575" y2="1135"/>
<line x1="469.7" y1="1088" x2="610" y2="1135"/>
<line x1="472.7" y1="1088" x2="620" y2="1135"/>
<line x1="473.9" y1="1088" x2="640" y2="1135"/>
<line x1="482.8" y1="1088" x2="620" y2="1135"/>
<line x1="489.6" y1="1088" x2="600" y2="1135"/>
<line x1="489.6" y1="1088" x2="624" y2="1135"/>
<line x1="493.4" y1="1088" x2="650" y2="1135"/>
<line x1="500.2" y1="1088" x2="658" y2="1135"/>
<line x1="501.4" y1="1088" x2="675" y2="1135"/>
<line x1="508.4" y1="1088" x2="740" y2="1135"/>
<line x1="508.4" y1="1088" x2="695" y2="1135"/>
<line x1="519.1" y1="1088" x2="725" y2="1135"/>
<line x1="522.9" y1="1088" x2="685" y2="1135"/>
<line x1="529.6" y1="1088" x2="715" y2="1135"/>
<line x1="529.6" y1="1088" x2="705" y2="1135"/>
<line x1="535.8" y1="1088" x2="752" y2="1135"/>
<line x1="537.0" y1="1088" x2="665" y2="1135"/>
<line x1="553.2" y1="1088" x2="733" y2="1135"/>
<line x1="554.4" y1="1088" x2="760" y2="1135"/>
<line x1="570.4" y1="1088" x2="790" y2="1135"/>
<line x1="581.0" y1="1088" x2="746" y2="1135"/>
<line x1="596.9" y1="1088" x2="811" y2="1135"/>
<line x1="632.4" y1="1088" x2="775" y2="1135"/>
<line x1="657.5" y1="1088" x2="905" y2="1135"/>
<line x1="448.0" y1="1138" x2="544" y2="1185"/>
<line x1="448.0" y1="1138" x2="531" y2="1185"/>
<line x1="457.1" y1="1138" x2="486" y2="1185"/>
<line x1="458.3" y1="1138" x2="580" y2="1185"/>
<line x1="469.7" y1="1138" x2="558" y2="1185"/>
<line x1="472.7" y1="1138" x2="570" y2="1185"/>
<line x1="473.9" y1="1138" x2="578" y2="1185"/>
<line x1="482.8" y1="1138" x2="600" y2="1185"/>
<line x1="489.6" y1="1138" x2="606" y2="1185"/>
<line x1="489.6" y1="1138" x2="600" y2="1185"/>
<line x1="493.4" y1="1138" x2="619" y2="1185"/>
<line x1="500.2" y1="1138" x2="585" y2="1185"/>
<line x1="501.4" y1="1138" x2="592" y2="1185"/>
<line x1="508.4" y1="1138" x2="629" y2="1185"/>
<line x1="508.4" y1="1138" x2="636" y2="1185"/>
<line x1="519.1" y1="1138" x2="625" y2="1185"/>
<line x1="522.9" y1="1138" x2="612" y2="1185"/>
<line x1="529.6" y1="1138" x2="660" y2="1185"/>
<line x1="529.6" y1="1138" x2="650" y2="1185"/>
<line x1="535.8" y1="1138" x2="640" y2="1185"/>
<line x1="537.0" y1="1138" x2="670" y2="1185"/>
<line x1="553.2" y1="1138" x2="645" y2="1185"/>
<line x1="554.4" y1="1138" x2="668" y2="1185"/>
<line x1="570.4" y1="1138" x2="690" y2="1185"/>
<line x1="581.0" y1="1138" x2="746" y2="1185"/>
<line x1="596.9" y1="1138" x2="728.5" y2="1185"/>
<line x1="632.4" y1="1138" x2="710" y2="1185"/>
<line x1="657.5" y1="1138" x2="771.5" y2="1185"/>
<line x1="448.0" y1="1188" x2="531" y2="1235"/>
<line x1="448.0" y1="1188" x2="490" y2="1235"/>
<line x1="457.1" y1="1188" x2="510" y2="1235"/>
<line x1="458.3" y1="1188" x2="520" y2="1235"/>
<line x1="469.7" y1="1188" x2="550" y2="1235"/>
<line x1="472.7" y1="1188" x2="500" y2="1235"/>
<line x1="473.9" y1="1188" x2="558" y2="1235"/>
<line x1="482.8" y1="1188" x2="565" y2="1235"/>
<line x1="489.6" y1="1188" x2="470" y2="1235"/>
<line x1="489.6" y1="1188" x2="578" y2="1235"/>
<line x1="493.4" y1="1188" x2="544" y2="1235"/>
<line x1="500.2" y1="1188" x2="537" y2="1235"/>
<line x1="501.4" y1="1188" x2="605" y2="1235"/>
<line x1="508.4" y1="1188" x2="585" y2="1235"/>
<line x1="508.4" y1="1188" x2="592" y2="1235"/>
<line x1="519.1" y1="1188" x2="619" y2="1235"/>
<line x1="522.9" y1="1188" x2="571.5" y2="1235"/>
<line x1="529.6" y1="1188" x2="599" y2="1235"/>
<line x1="529.6" y1="1188" x2="612" y2="1235"/>
<line x1="535.8" y1="1188" x2="626" y2="1235"/>
<line x1="537.0" y1="1188" x2="660" y2="1235"/>
<line x1="553.2" y1="1188" x2="633" y2="1235"/>
<line x1="554.4" y1="1188" x2="642" y2="1235"/>
<line x1="570.4" y1="1188" x2="640" y2="1235"/>
<line x1="581.0" y1="1188" x2="700" y2="1235"/>
<line x1="596.9" y1="1188" x2="685" y2="1235"/>
<line x1="632.4" y1="1188" x2="725" y2="1235"/>
<line x1="657.5" y1="1188" x2="761" y2="1235"/>
<line x1="448.0" y1="1238" x2="408" y2="1285"/>
<line x1="448.0" y1="1238" x2="400" y2="1285"/>
<line x1="457.1" y1="1238" x2="415" y2="1285"/>
<line x1="458.3" y1="1238" x2="423" y2="1285"/>
<line x1="469.7" y1="1238" x2="391" y2="1285"/>
<line x1="472.7" y1="1238" x2="440" y2="1285"/>
<line x1="473.9" y1="1238" x2="445" y2="1285"/>
<line x1="482.8" y1="1238" x2="490" y2="1285"/>
<line x1="489.6" y1="1238" x2="469" y2="1285"/>
<line x1="489.6" y1="1238" x2="449" y2="1285"/>
<line x1="493.4" y1="1238" x2="455" y2="1285"/>
<line x1="500.2" y1="1238" x2="475" y2="1285"/>
<line x1="501.4" y1="1238" x2="495" y2="1285"/>
<line x1="508.4" y1="1238" x2="459" y2="1285"/>
<line x1="508.4" y1="1238" x2="500" y2="1285"/>
<line x1="519.1" y1="1238" x2="565" y2="1285"/>
<line x1="522.9" y1="1238" x2="510" y2="1285"/>
<line x1="529.6" y1="1238" x2="520" y2="1285"/>
<line x1="529.6" y1="1238" x2="515" y2="1285"/>
<line x1="535.8" y1="1238" x2="531" y2="1285"/>
<line x1="537.0" y1="1238" x2="541" y2="1285"/>
<line x1="553.2" y1="1238" x2="578" y2="1285"/>
<line x1="554.4" y1="1238" x2="480" y2="1285"/>
<line x1="570.4" y1="1238" x2="606" y2="1285"/>
<line x1="581.0" y1="1238" x2="623" y2="1285"/>
<line x1="596.9" y1="1238" x2="551" y2="1285"/>
<line x1="632.4" y1="1238" x2="589" y2="1285"/>
<line x1="657.5" y1="1238" x2="631" y2="1285"/>
<line x1="448.0" y1="1288" x2="420" y2="1335"/>
<line x1="448.0" y1="1288" x2="413" y2="1335"/>
<line x1="457.1" y1="1288" x2="470" y2="1335"/>
<line x1="458.3" y1="1288" x2="426" y2="1335"/>
<line x1="469.7" y1="1288" x2="444" y2="1335"/>
<line x1="472.7" y1="1288" x2="435" y2="1335"/>
<line x1="473.9" y1="1288" x2="463" y2="1335"/>
<line x1="482.8" y1="1288" x2="452" y2="1335"/>
<line x1="489.6" y1="1288" x2="476" y2="1335"/>
<line x1="489.6" y1="1288" x2="490" y2="1335"/>
<line x1="493.4" y1="1288" x2="486" y2="1335"/>
<line x1="500.2" y1="1288" x2="510" y2="1335"/>
<line x1="501.4" y1="1288" x2="500" y2="1335"/>
<line x1="508.4" y1="1288" x2="505" y2="1335"/>
<line x1="508.4" y1="1288" x2="531" y2="1335"/>
<line x1="519.1" y1="1288" x2="517" y2="1335"/>
<line x1="522.9" y1="1288" x2="537" y2="1335"/>
<line x1="529.6" y1="1288" x2="544" y2="1335"/>
<line x1="529.6" y1="1288" x2="612" y2="1335"/>
<line x1="535.8" y1="1288" x2="578" y2="1335"/>
<line x1="537.0" y1="1288" x2="525" y2="1335"/>
<line x1="553.2" y1="1288" x2="558" y2="1335"/>
<line x1="554.4" y1="1288" x2="590" y2="1335"/>
<line x1="570.4" y1="1288" x2="550" y2="1335"/>
<line x1="581.0" y1="1288" x2="565" y2="1335"/>
<line x1="596.9" y1="1288" x2="602" y2="1335"/>
<line x1="632.4" y1="1288" x2="630" y2="1335"/>
<line x1="657.5" y1="1288" x2="667" y2="1335"/>
<line x1="448.0" y1="1338" x2="367" y2="1385"/>
<line x1="448.0" y1="1338" x2="430" y2="1385"/>
<line x1="457.1" y1="1338" x2="400" y2="1385"/>
<line x1="458.3" y1="1338" x2="359" y2="1385"/>
<line x1="469.7" y1="1338" x2="391" y2="1385"/>
<line x1="472.7" y1="1338" x2="469" y2="1385"/>
<line x1="473.9" y1="1338" x2="410" y2="1385"/>
<line x1="482.8" y1="1338" x2="463" y2="1385"/>
<line x1="489.6" y1="1338" x2="437" y2="1385"/>
<line x1="489.6" y1="1338" x2="420" y2="1385"/>
<line x1="493.4" y1="1338" x2="455" y2="1385"/>
<line x1="500.2" y1="1338" x2="475" y2="1385"/>
<line x1="501.4" y1="1338" x2="449" y2="1385"/>
<line x1="508.4" y1="1338" x2="480" y2="1385"/>
<line x1="508.4" y1="1338" x2="515" y2="1385"/>
<line x1="519.1" y1="1338" x2="524" y2="1385"/>
<line x1="522.9" y1="1338" x2="495" y2="1385"/>
<line x1="529.6" y1="1338" x2="500" y2="1385"/>
<line x1="529.6" y1="1338" x2="558" y2="1385"/>
<line x1="535.8" y1="1338" x2="571.5" y2="1385"/>
<line x1="537.0" y1="1338" x2="490" y2="1385"/>
<line x1="553.2" y1="1338" x2="633" y2="1385"/>
<line x1="554.4" y1="1338" x2="534" y2="1385"/>
<line x1="570.4" y1="1338" x2="544" y2="1385"/>
<line x1="581.0" y1="1338" x2="585" y2="1385"/>
<line x1="596.9" y1="1338" x2="510" y2="1385"/>
<line x1="632.4" y1="1338" x2="606" y2="1385"/>
<line x1="657.5" y1="1338" x2="704" y2="1385"/>
<line x1="448.0" y1="1388" x2="401" y2="1435"/>
<line x1="448.0" y1="1388" x2="393" y2="1435"/>
<line x1="457.1" y1="1388" x2="415" y2="1435"/>
<line x1="458.3" y1="1388" x2="408" y2="1435"/>
<line x1="469.7" y1="1388" x2="420" y2="1435"/>
<line x1="472.7" y1="1388" x2="428" y2="1435"/>
<line x1="473.9" y1="1388" x2="447" y2="1435"/>
<line x1="482.8" y1="1388" x2="463" y2="1435"/>
<line x1="489.6" y1="1388" x2="435" y2="1435"/>
<line x1="489.6" y1="1388" x2="442" y2="1435"/>
<line x1="493.4" y1="1388" x2="468" y2="1435"/>
<line x1="500.2" y1="1388" x2="452" y2="1435"/>
<line x1="501.4" y1="1388" x2="510" y2="1435"/>
<line x1="508.4" y1="1388" x2="488" y2="1435"/>
<line x1="508.4" y1="1388" x2="473" y2="1435"/>
<line x1="519.1" y1="1388" x2="493" y2="1435"/>
<line x1="522.9" y1="1388" x2="558" y2="1435"/>
<line x1="529.6" y1="1388" x2="503" y2="1435"/>
<line x1="529.6" y1="1388" x2="524" y2="1435"/>
<line x1="535.8" y1="1388" x2="483" y2="1435"/>
<line x1="537.0" y1="1388" x2="544" y2="1435"/>
<line x1="553.2" y1="1388" x2="514" y2="1435"/>
<line x1="554.4" y1="1388" x2="534" y2="1435"/>
<line x1="570.4" y1="1388" x2="571.5" y2="1435"/>
<line x1="581.0" y1="1388" x2="602" y2="1435"/>
<line x1="596.9" y1="1388" x2="585" y2="1435"/>
<line x1="632.4" y1="1388" x2="626" y2="1435"/>
<line x1="657.5" y1="1388" x2="650" y2="1435"/>
<line x1="448.0" y1="1438" x2="415" y2="1485"/>
<line x1="448.0" y1="1438" x2="376" y2="1485"/>
<line x1="457.1" y1="1438" x2="400" y2="1485"/>
<line x1="458.3" y1="1438" x2="422" y2="1485"/>
<line x1="469.7" y1="1438" x2="408" y2="1485"/>
<line x1="472.7" y1="1438" x2="430" y2="1485"/>
<line x1="473.9" y1="1438" x2="445" y2="1485"/>
<line x1="482.8" y1="1438" x2="459" y2="1485"/>
<line x1="489.6" y1="1438" x2="439" y2="1485"/>
<line x1="489.6" y1="1438" x2="449" y2="1485"/>
<line x1="493.4" y1="1438" x2="480" y2="1485"/>
<line x1="500.2" y1="1438" x2="465" y2="1485"/>
<line x1="501.4" y1="1438" x2="490" y2="1485"/>
<line x1="508.4" y1="1438" x2="525" y2="1485"/>
<line x1="508.4" y1="1438" x2="520.5" y2="1485"/>
<line x1="519.1" y1="1438" x2="500" y2="1485"/>
<line x1="522.9" y1="1438" x2="469" y2="1485"/>
<line x1="529.6" y1="1438" x2="505" y2="1485"/>
<line x1="529.6" y1="1438" x2="510" y2="1485"/>
<line x1="535.8" y1="1438" x2="485" y2="1485"/>
<line x1="537.0" y1="1438" x2="531" y2="1485"/>
<line x1="553.2" y1="1438" x2="541" y2="1485"/>
<line x1="554.4" y1="1438" x2="551" y2="1485"/>
<line x1="570.4" y1="1438" x2="578" y2="1485"/>
<line x1="581.0" y1="1438" x2="589" y2="1485"/>
<line x1="596.9" y1="1438" x2="599" y2="1485"/>
<line x1="632.4" y1="1438" x2="565" y2="1485"/>
<line x1="657.5" y1="1438" x2="640" y2="1485"/>
<line x1="448.0" y1="1488" x2="493" y2="1535"/>
<line x1="448.0" y1="1488" x2="456" y2="1535"/>
<line x1="457.1" y1="1488" x2="420" y2="1535"/>
<line x1="458.3" y1="1488" x2="476" y2="1535"/>
<line x1="469.7" y1="1488" x2="527" y2="1535"/>
<line x1="472.7" y1="1488" x2="439" y2="1535"/>
<line x1="473.9" y1="1488" x2="510" y2="1535"/>
<line x1="482.8" y1="1488" x2="561" y2="1535"/>
<line x1="489.6" y1="1488" x2="578" y2="1535"/>
<line x1="489.6" y1="1488" x2="595" y2="1535"/>
<line x1="493.4" y1="1488" x2="589" y2="1535"/>
<line x1="500.2" y1="1488" x2="540" y2="1535"/>
<line x1="501.4" y1="1488" x2="600" y2="1535"/>
<line x1="508.4" y1="1488" x2="544" y2="1535"/>
<line x1="508.4" y1="1488" x2="617" y2="1535"/>
<line x1="519.1" y1="1488" x2="612" y2="1535"/>
<line x1="522.9" y1="1488" x2="620" y2="1535"/>
<line x1="529.6" y1="1488" x2="629" y2="1535"/>
<line x1="529.6" y1="1488" x2="674" y2="1535"/>
<line x1="535.8" y1="1488" x2="653" y2="1535"/>
<line x1="537.0" y1="1488" x2="650" y2="1535"/>
<line x1="553.2" y1="1488" x2="640" y2="1535"/>
<line x1="554.4" y1="1488" x2="668" y2="1535"/>
<line x1="570.4" y1="1488" x2="663.5" y2="1535"/>
<line x1="581.0" y1="1488" x2="691" y2="1535"/>
<line x1="596.9" y1="1488" x2="684" y2="1535"/>
<line x1="632.4" y1="1488" x2="678" y2="1535"/>
<line x1="657.5" y1="1488" x2="895" y2="1535"/>
<line x1="448.0" y1="1538" x2="408" y2="1585"/>
<line x1="448.0" y1="1538" x2="400" y2="1585"/>
<line x1="457.1" y1="1538" x2="393" y2="1585"/>
<line x1="458.3" y1="1538" x2="420" y2="1585"/>
<line x1="469.7" y1="1538" x2="445" y2="1585"/>
<line x1="472.7" y1="1538" x2="415" y2="1585"/>
<line x1="473.9" y1="1538" x2="435" y2="1585"/>
<line x1="482.8" y1="1538" x2="439" y2="1585"/>
<line x1="489.6" y1="1538" x2="428.5" y2="1585"/>
<line x1="489.6" y1="1538" x2="457.5" y2="1585"/>
<line x1="493.4" y1="1538" x2="466" y2="1585"/>
<line x1="500.2" y1="1538" x2="449" y2="1585"/>
<line x1="501.4" y1="1538" x2="470" y2="1585"/>
<line x1="508.4" y1="1538" x2="503" y2="1585"/>
<line x1="508.4" y1="1538" x2="476" y2="1585"/>
<line x1="519.1" y1="1538" x2="488" y2="1585"/>
<line x1="522.9" y1="1538" x2="483" y2="1585"/>
<line x1="529.6" y1="1538" x2="493" y2="1585"/>
<line x1="529.6" y1="1538" x2="508" y2="1585"/>
<line x1="535.8" y1="1538" x2="534" y2="1585"/>
<line x1="537.0" y1="1538" x2="514" y2="1585"/>
<line x1="553.2" y1="1538" x2="544" y2="1585"/>
<line x1="554.4" y1="1538" x2="524" y2="1585"/>
<line x1="570.4" y1="1538" x2="568" y2="1585"/>
<line x1="581.0" y1="1538" x2="554.5" y2="1585"/>
<line x1="596.9" y1="1538" x2="578" y2="1585"/>
<line x1="632.4" y1="1538" x2="595" y2="1585"/>
<line x1="657.5" y1="1538" x2="612" y2="1585"/>
<line x1="448.0" y1="1588" x2="396" y2="1635"/>
<line x1="448.0" y1="1588" x2="415" y2="1635"/>
<line x1="457.1" y1="1588" x2="418" y2="1635"/>
<line x1="458.3" y1="1588" x2="408" y2="1635"/>
<line x1="469.7" y1="1588" x2="428.5" y2="1635"/>
<line x1="472.7" y1="1588" x2="438" y2="1635"/>
<line x1="473.9" y1="1588" x2="455" y2="1635"/>
<line x1="482.8" y1="1588" x2="459" y2="1635"/>
<line x1="489.6" y1="1588" x2="445" y2="1635"/>
<line x1="489.6" y1="1588" x2="475" y2="1635"/>
<line x1="493.4" y1="1588" x2="469" y2="1635"/>
<line x1="500.2" y1="1588" x2="449" y2="1635"/>
<line x1="501.4" y1="1588" x2="510" y2="1635"/>
<line x1="508.4" y1="1588" x2="480" y2="1635"/>
<line x1="508.4" y1="1588" x2="495" y2="1635"/>
<line x1="519.1" y1="1588" x2="490" y2="1635"/>
<line x1="522.9" y1="1588" x2="520.5" y2="1635"/>
<line x1="529.6" y1="1588" x2="500" y2="1635"/>
<line x1="529.6" y1="1588" x2="531" y2="1635"/>
<line x1="535.8" y1="1588" x2="515" y2="1635"/>
<line x1="537.0" y1="1588" x2="541" y2="1635"/>
<line x1="553.2" y1="1588" x2="545" y2="1635"/>
<line x1="554.4" y1="1588" x2="561" y2="1635"/>
<line x1="570.4" y1="1588" x2="571.5" y2="1635"/>
<line x1="581.0" y1="1588" x2="551" y2="1635"/>
<line x1="596.9" y1="1588" x2="585" y2="1635"/>
<line x1="632.4" y1="1588" x2="609" y2="1635"/>
<line x1="657.5" y1="1588" x2="667" y2="1635"/>
<line x1="448.0" y1="1638" x2="393" y2="1685"/>
<line x1="448.0" y1="1638" x2="425" y2="1685"/>
<line x1="457.1" y1="1638" x2="401" y2="1685"/>
<line x1="458.3" y1="1638" x2="439" y2="1685"/>
<line x1="469.7" y1="1638" x2="418" y2="1685"/>
<line x1="472.7" y1="1638" x2="410" y2="1685"/>
<line x1="473.9" y1="1638" x2="445" y2="1685"/>
<line x1="482.8" y1="1638" x2="449" y2="1685"/>
<line x1="489.6" y1="1638" x2="428.5" y2="1685"/>
<line x1="489.6" y1="1638" x2="435" y2="1685"/>
<line x1="493.4" y1="1638" x2="469" y2="1685"/>
<line x1="500.2" y1="1638" x2="465" y2="1685"/>
<line x1="501.4" y1="1638" x2="455" y2="1685"/>
<line x1="508.4" y1="1638" x2="459" y2="1685"/>
<line x1="508.4" y1="1638" x2="490" y2="1685"/>
<line x1="519.1" y1="1638" x2="480" y2="1685"/>
<line x1="522.9" y1="1638" x2="500" y2="1685"/>
<line x1="529.6" y1="1638" x2="510" y2="1685"/>
<line x1="529.6" y1="1638" x2="485" y2="1685"/>
<line x1="535.8" y1="1638" x2="505" y2="1685"/>
<line x1="537.0" y1="1638" x2="520.5" y2="1685"/>
<line x1="553.2" y1="1638" x2="531" y2="1685"/>
<line x1="554.4" y1="1638" x2="551" y2="1685"/>
<line x1="570.4" y1="1638" x2="561" y2="1685"/>
<line x1="581.0" y1="1638" x2="541" y2="1685"/>
<line x1="596.9" y1="1638" x2="575" y2="1685"/>
<line x1="632.4" y1="1638" x2="592" y2="1685"/>
<line x1="657.5" y1="1638" x2="612" y2="1685"/>
<line x1="448.0" y1="1688" x2="371" y2="1735"/>
<line x1="448.0" y1="1688" x2="459" y2="1735"/>
<line x1="457.1" y1="1688" x2="408" y2="1735"/>
<line x1="458.3" y1="1688" x2="445" y2="1735"/>
<line x1="469.7" y1="1688" x2="425" y2="1735"/>
<line x1="472.7" y1="1688" x2="449" y2="1735"/>
<line x1="473.9" y1="1688" x2="430" y2="1735"/>
<line x1="482.8" y1="1688" x2="475" y2="1735"/>
<line x1="489.6" y1="1688" x2="498" y2="1735"/>
<line x1="489.6" y1="1688" x2="439" y2="1735"/>
<line x1="493.4" y1="1688" x2="524" y2="1735"/>
<line x1="500.2" y1="1688" x2="483" y2="1735"/>
<line x1="501.4" y1="1688" x2="544" y2="1735"/>
<line x1="508.4" y1="1688" x2="493" y2="1735"/>
<line x1="508.4" y1="1688" x2="469" y2="1735"/>
<line x1="519.1" y1="1688" x2="514" y2="1735"/>
<line x1="522.9" y1="1688" x2="503" y2="1735"/>
<line x1="529.6" y1="1688" x2="531" y2="1735"/>
<line x1="529.6" y1="1688" x2="535" y2="1735"/>
<line x1="535.8" y1="1688" x2="558" y2="1735"/>
<line x1="537.0" y1="1688" x2="550" y2="1735"/>
<line x1="553.2" y1="1688" x2="568" y2="1735"/>
<line x1="554.4" y1="1688" x2="578" y2="1735"/>
<line x1="570.4" y1="1688" x2="600" y2="1735"/>
<line x1="581.0" y1="1688" x2="623" y2="1735"/>
<line x1="596.9" y1="1688" x2="589" y2="1735"/>
<line x1="632.4" y1="1688" x2="612" y2="1735"/>
<line x1="657.5" y1="1688" x2="670" y2="1735"/>
<line x1="448.0" y1="1738" x2="450" y2="1785"/>
<line x1="448.0" y1="1738" x2="440" y2="1785"/>
<line x1="457.1" y1="1738" x2="456" y2="1785"/>
<line x1="458.3" y1="1738" x2="483" y2="1785"/>
<line x1="469.7" y1="1738" x2="469" y2="1785"/>
<line x1="472.7" y1="1738" x2="476" y2="1785"/>
<line x1="473.9" y1="1738" x2="462" y2="1785"/>
<line x1="482.8" y1="1738" x2="488" y2="1785"/>
<line x1="489.6" y1="1738" x2="493" y2="1785"/>
<line x1="489.6" y1="1738" x2="498" y2="1785"/>
<line x1="493.4" y1="1738" x2="503" y2="1785"/>
<line x1="500.2" y1="1738" x2="508" y2="1785"/>
<line x1="501.4" y1="1738" x2="514" y2="1785"/>
<line x1="508.4" y1="1738" x2="524" y2="1785"/>
<line x1="508.4" y1="1738" x2="530" y2="1785"/>
<line x1="519.1" y1="1738" x2="519" y2="1785"/>
<line x1="522.9" y1="1738" x2="543" y2="1785"/>
<line x1="529.6" y1="1738" x2="537.5" y2="1785"/>
<line x1="529.6" y1="1738" x2="548" y2="1785"/>
<line x1="535.8" y1="1738" x2="552" y2="1785"/>
<line x1="537.0" y1="1738" x2="558" y2="1785"/>
<line x1="553.2" y1="1738" x2="585" y2="1785"/>
<line x1="554.4" y1="1738" x2="565" y2="1785"/>
<line x1="570.4" y1="1738" x2="571.5" y2="1785"/>
<line x1="581.0" y1="1738" x2="633" y2="1785"/>
<line x1="596.9" y1="1738" x2="599" y2="1785"/>
<line x1="632.4" y1="1738" x2="616" y2="1785"/>
<line x1="657.5" y1="1738" x2="640" y2="1785"/>
<line x1="448.0" y1="1788" x2="442" y2="1835"/>
<line x1="448.0" y1="1788" x2="435" y2="1835"/>
<line x1="457.1" y1="1788" x2="450" y2="1835"/>
<line x1="458.3" y1="1788" x2="466" y2="1835"/>
<line x1="469.7" y1="1788" x2="456" y2="1835"/>
<line x1="472.7" y1="1788" x2="476" y2="1835"/>
<line x1="473.9" y1="1788" x2="460" y2="1835"/>
<line x1="482.8" y1="1788" x2="470" y2="1835"/>
<line x1="489.6" y1="1788" x2="486" y2="1835"/>
<line x1="489.6" y1="1788" x2="497" y2="1835"/>
<line x1="493.4" y1="1788" x2="515" y2="1835"/>
<line x1="500.2" y1="1788" x2="480" y2="1835"/>
<line x1="501.4" y1="1788" x2="492" y2="1835"/>
<line x1="508.4" y1="1788" x2="503" y2="1835"/>
<line x1="508.4" y1="1788" x2="524" y2="1835"/>
<line x1="519.1" y1="1788" x2="510" y2="1835"/>
<line x1="522.9" y1="1788" x2="530" y2="1835"/>
<line x1="529.6" y1="1788" x2="537.5" y2="1835"/>
<line x1="529.6" y1="1788" x2="545" y2="1835"/>
<line x1="535.8" y1="1788" x2="565" y2="1835"/>
<line x1="537.0" y1="1788" x2="557" y2="1835"/>
<line x1="553.2" y1="1788" x2="590" y2="1835"/>
<line x1="554.4" y1="1788" x2="551" y2="1835"/>
<line x1="570.4" y1="1788" x2="578" y2="1835"/>
<line x1="581.0" y1="1788" x2="610" y2="1835"/>
<line x1="596.9" y1="1788" x2="599" y2="1835"/>
<line x1="632.4" y1="1788" x2="631" y2="1835"/>
<line x1="657.5" y1="1788" x2="669" y2="1835"/>
</g>
<g stroke="#8a8a8a" stroke-opacity="0.56" stroke-width="1.8">
<line x1="448.0" y1="138" x2="448.0" y2="185"/>
<line x1="457.1" y1="138" x2="457.1" y2="185"/>
<line x1="458.3" y1="138" x2="458.3" y2="185"/>
<line x1="469.7" y1="138" x2="469.7" y2="185"/>
<line x1="472.7" y1="138" x2="472.7" y2="185"/>
<line x1="473.9" y1="138" x2="473.9" y2="185"/>
<line x1="482.8" y1="138" x2="482.8" y2="185"/>
<line x1="489.6" y1="138" x2="489.6" y2="185"/>
<line x1="493.4" y1="138" x2="493.4" y2="185"/>
<line x1="500.2" y1="138" x2="500.2" y2="185"/>
<line x1="501.4" y1="138" x2="501.4" y2="185"/>
<line x1="508.4" y1="138" x2="508.4" y2="185"/>
<line x1="519.1" y1="138" x2="519.1" y2="185"/>
<line x1="522.9" y1="138" x2="522.9" y2="185"/>
<line x1="529.6" y1="138" x2="529.6" y2="185"/>
<line x1="535.8" y1="138" x2="535.8" y2="185"/>
<line x1="537.0" y1="138" x2="537.0" y2="185"/>
<line x1="553.2" y1="138" x2="553.2" y2="185"/>
<line x1="554.4" y1="138" x2="554.4" y2="185"/>
<line x1="570.4" y1="138" x2="570.4" y2="185"/>
<line x1="581.0" y1="138" x2="581.0" y2="185"/>
<line x1="596.9" y1="138" x2="596.9" y2="185"/>
<line x1="632.4" y1="138" x2="632.4" y2="185"/>
<line x1="657.5" y1="138" x2="657.5" y2="185"/>
<line x1="448.0" y1="188" x2="448.0" y2="235"/>
<line x1="457.1" y1="188" x2="457.1" y2="235"/>
<line x1="458.3" y1="188" x2="458.3" y2="235"/>
<line x1="469.7" y1="188" x2="469.7" y2="235"/>
<line x1="472.7" y1="188" x2="472.7" y2="235"/>
<line x1="473.9" y1="188" x2="473.9" y2="235"/>
<line x1="482.8" y1="188" x2="482.8" y2="235"/>
<line x1="489.6" y1="188" x2="489.6" y2="235"/>
<line x1="493.4" y1="188" x2="493.4" y2="235"/>
<line x1="500.2" y1="188" x2="500.2" y2="235"/>
<line x1="501.4" y1="188" x2="501.4" y2="235"/>
<line x1="508.4" y1="188" x2="508.4" y2="235"/>
<line x1="519.1" y1="188" x2="519.1" y2="235"/>
<line x1="522.9" y1="188" x2="522.9" y2="235"/>
<line x1="529.6" y1="188" x2="529.6" y2="235"/>
<line x1="535.8" y1="188" x2="535.8" y2="235"/>
<line x1="537.0" y1="188" x2="537.0" y2="235"/>
<line x1="553.2" y1="188" x2="553.2" y2="235"/>
<line x1="554.4" y1="188" x2="554.4" y2="235"/>
<line x1="570.4" y1="188" x2="570.4" y2="235"/>
<line x1="581.0" y1="188" x2="581.0" y2="235"/>
<line x1="596.9" y1="188" x2="596.9" y2="235"/>
<line x1="632.4" y1="188" x2="632.4" y2="235"/>
<line x1="657.5" y1="188" x2="657.5" y2="235"/>
<line x1="448.0" y1="238" x2="448.0" y2="285"/>
<line x1="457.1" y1="238" x2="457.1" y2="285"/>
<line x1="458.3" y1="238" x2="458.3" y2="285"/>
<line x1="469.7" y1="238" x2="469.7" y2="285"/>
<line x1="472.7" y1="238" x2="472.7" y2="285"/>
<line x1="473.9" y1="238" x2="473.9" y2="285"/>
<line x1="482.8" y1="238" x2="482.8" y2="285"/>
<line x1="489.6" y1="238" x2="489.6" y2="285"/>
<line x1="493.4" y1="238" x2="493.4" y2="285"/>
<line x1="500.2" y1="238" x2="500.2" y2="285"/>
<line x1="501.4" y1="238" x2="501.4" y2="285"/>
<line x1="508.4" y1="238" x2="508.4" y2="285"/>
<line x1="519.1" y1="238" x2="519.1" y2="285"/>
<line x1="522.9" y1="238" x2="522.9" y2="285"/>
<line x1="529.6" y1="238" x2="529.6" y2="285"/>
<line x1="535.8" y1="238" x2="535.8" y2="285"/>
<line x1="537.0" y1="238" x2="537.0" y2="285"/>
<line x1="553.2" y1="238" x2="553.2" y2="285"/>
<line x1="554.4" y1="238" x2="554.4" y2="285"/>
<line x1="570.4" y1="238" x2="570.4" y2="285"/>
<line x1="581.0" y1="238" x2="581.0" y2="285"/>
<line x1="596.9" y1="238" x2="596.9" y2="285"/>
<line x1="632.4" y1="238" x2="632.4" y2="285"/>
<line x1="657.5" y1="238" x2="657.5" y2="285"/>
<line x1="448.0" y1="288" x2="448.0" y2="335"/>
<line x1="457.1" y1="288" x2="457.1" y2="335"/>
<line x1="458.3" y1="288" x2="458.3" y2="335"/>
<line x1="469.7" y1="288" x2="469.7" y2="335"/>
<line x1="472.7" y1="288" x2="472.7" y2="335"/>
<line x1="473.9" y1="288" x2="473.9" y2="335"/>
<line x1="482.8" y1="288" x2="482.8" y2="335"/>
<line x1="489.6" y1="288" x2="489.6" y2="335"/>
<line x1="493.4" y1="288" x2="493.4" y2="335"/>
<line x1="500.2" y1="288" x2="500.2" y2="335"/>
<line x1="501.4" y1="288" x2="501.4" y2="335"/>
<line x1="508.4" y1="288" x2="508.4" y2="335"/>
<line x1="519.1" y1="288" x2="519.1" y2="335"/>
<line x1="522.9" y1="288" x2="522.9" y2="335"/>
<line x1="529.6" y1="288" x2="529.6" y2="335"/>
<line x1="535.8" y1="288" x2="535.8" y2="335"/>
<line x1="537.0" y1="288" x2="537.0" y2="335"/>
<line x1="553.2" y1="288" x2="553.2" y2="335"/>
<line x1="554.4" y1="288" x2="554.4" y2="335"/>
<line x1="570.4" y1="288" x2="570.4" y2="335"/>
<line x1="581.0" y1="288" x2="581.0" y2="335"/>
<line x1="596.9" y1="288" x2="596.9" y2="335"/>
<line x1="632.4" y1="288" x2="632.4" y2="335"/>
<line x1="657.5" y1="288" x2="657.5" y2="335"/>
<line x1="448.0" y1="338" x2="448.0" y2="385"/>
<line x1="457.1" y1="338" x2="457.1" y2="385"/>
<line x1="458.3" y1="338" x2="458.3" y2="385"/>
<line x1="469.7" y1="338" x2="469.7" y2="385"/>
<line x1="472.7" y1="338" x2="472.7" y2="385"/>
<line x1="473.9" y1="338" x2="473.9" y2="385"/>
<line x1="482.8" y1="338" x2="482.8" y2="385"/>
<line x1="489.6" y1="338" x2="489.6" y2="385"/>
<line x1="493.4" y1="338" x2="493.4" y2="385"/>
<line x1="500.2" y1="338" x2="500.2" y2="385"/>
<line x1="501.4" y1="338" x2="501.4" y2="385"/>
<line x1="508.4" y1="338" x2="508.4" y2="385"/>
<line x1="519.1" y1="338" x2="519.1" y2="385"/>
<line x1="522.9" y1="338" x2="522.9" y2="385"/>
<line x1="529.6" y1="338" x2="529.6" y2="385"/>
<line x1="535.8" y1="338" x2="535.8" y2="385"/>
<line x1="537.0" y1="338" x2="537.0" y2="385"/>
<line x1="553.2" y1="338" x2="553.2" y2="385"/>
<line x1="554.4" y1="338" x2="554.4" y2="385"/>
<line x1="570.4" y1="338" x2="570.4" y2="385"/>
<line x1="581.0" y1="338" x2="581.0" y2="385"/>
<line x1="596.9" y1="338" x2="596.9" y2="385"/>
<line x1="632.4" y1="338" x2="632.4" y2="385"/>
<line x1="657.5" y1="338" x2="657.5" y2="385"/>
<line x1="448.0" y1="388" x2="448.0" y2="435"/>
<line x1="457.1" y1="388" x2="457.1" y2="435"/>
<line x1="458.3" y1="388" x2="458.3" y2="435"/>
<line x1="469.7" y1="388" x2="469.7" y2="435"/>
<line x1="472.7" y1="388" x2="472.7" y2="435"/>
<line x1="473.9" y1="388" x2="473.9" y2="435"/>
<line x1="482.8" y1="388" x2="482.8" y2="435"/>
<line x1="489.6" y1="388" x2="489.6" y2="435"/>
<line x1="493.4" y1="388" x2="493.4" y2="435"/>
<line x1="500.2" y1="388" x2="500.2" y2="435"/>
<line x1="501.4" y1="388" x2="501.4" y2="435"/>
<line x1="508.4" y1="388" x2="508.4" y2="435"/>
<line x1="519.1" y1="388" x2="519.1" y2="435"/>
<line x1="522.9" y1="388" x2="522.9" y2="435"/>
<line x1="529.6" y1="388" x2="529.6" y2="435"/>
<line x1="535.8" y1="388" x2="535.8" y2="435"/>
<line x1="537.0" y1="388" x2="537.0" y2="435"/>
<line x1="553.2" y1="388" x2="553.2" y2="435"/>
<line x1="554.4" y1="388" x2="554.4" y2="435"/>
<line x1="570.4" y1="388" x2="570.4" y2="435"/>
<line x1="581.0" y1="388" x2="581.0" y2="435"/>
<line x1="596.9" y1="388" x2="596.9" y2="435"/>
<line x1="632.4" y1="388" x2="632.4" y2="435"/>
<line x1="657.5" y1="388" x2="657.5" y2="435"/>
<line x1="448.0" y1="438" x2="448.0" y2="485"/>
<line x1="457.1" y1="438" x2="457.1" y2="485"/>
<line x1="458.3" y1="438" x2="458.3" y2="485"/>
<line x1="469.7" y1="438" x2="469.7" y2="485"/>
<line x1="472.7" y1="438" x2="472.7" y2="485"/>
<line x1="473.9" y1="438" x2="473.9" y2="485"/>
<line x1="482.8" y1="438" x2="482.8" y2="485"/>
<line x1="489.6" y1="438" x2="489.6" y2="485"/>
<line x1="493.4" y1="438" x2="493.4" y2="485"/>
<line x1="500.2" y1="438" x2="500.2" y2="485"/>
<line x1="501.4" y1="438" x2="501.4" y2="485"/>
<line x1="508.4" y1="438" x2="508.4" y2="485"/>
<line x1="519.1" y1="438" x2="519.1" y2="485"/>
<line x1="522.9" y1="438" x2="522.9" y2="485"/>
<line x1="529.6" y1="438" x2="529.6" y2="485"/>
<line x1="535.8" y1="438" x2="535.8" y2="485"/>
<line x1="537.0" y1="438" x2="537.0" y2="485"/>
<line x1="553.2" y1="438" x2="553.2" y2="485"/>
<line x1="554.4" y1="438" x2="554.4" y2="485"/>
<line x1="570.4" y1="438" x2="570.4" y2="485"/>
<line x1="581.0" y1="438" x2="581.0" y2="485"/>
<line x1="596.9" y1="438" x2="596.9" y2="485"/>
<line x1="632.4" y1="438" x2="632.4" y2="485"/>
<line x1="657.5" y1="438" x2="657.5" y2="485"/>
<line x1="448.0" y1="488" x2="448.0" y2="535"/>
<line x1="457.1" y1="488" x2="457.1" y2="535"/>
<line x1="458.3" y1="488" x2="458.3" y2="535"/>
<line x1="469.7" y1="488" x2="469.7" y2="535"/>
<line x1="472.7" y1="488" x2="472.7" y2="535"/>
<line x1="473.9" y1="488" x2="473.9" y2="535"/>
<line x1="482.8" y1="488" x2="482.8" y2="535"/>
<line x1="489.6" y1="488" x2="489.6" y2="535"/>
<line x1="493.4" y1="488" x2="493.4" y2="535"/>
<line x1="500.2" y1="488" x2="500.2" y2="535"/>
<line x1="501.4" y1="488" x2="501.4" y2="535"/>
<line x1="508.4" y1="488" x2="508.4" y2="535"/>
<line x1="519.1" y1="488" x2="519.1" y2="535"/>
<line x1="522.9" y1="488" x2="522.9" y2="535"/>
<line x1="529.6" y1="488" x2="529.6" y2="535"/>
<line x1="535.8" y1="488" x2="535.8" y2="535"/>
<line x1="537.0" y1="488" x2="537.0" y2="535"/>
<line x1="553.2" y1="488" x2="553.2" y2="535"/>
<line x1="554.4" y1="488" x2="554.4" y2="535"/>
<line x1="570.4" y1="488" x2="570.4" y2="535"/>
<line x1="581.0" y1="488" x2="581.0" y2="535"/>
<line x1="596.9" y1="488" x2="596.9" y2="535"/>
<line x1="632.4" y1="488" x2="632.4" y2="535"/>
<line x1="657.5" y1="488" x2="657.5" y2="535"/>
<line x1="448.0" y1="538" x2="448.0" y2="585"/>
<line x1="457.1" y1="538" x2="457.1" y2="585"/>
<line x1="458.3" y1="538" x2="458.3" y2="585"/>
<line x1="469.7" y1="538" x2="469.7" y2="585"/>
<line x1="472.7" y1="538" x2="472.7" y2="585"/>
<line x1="473.9" y1="538" x2="473.9" y2="585"/>
<line x1="482.8" y1="538" x2="482.8" y2="585"/>
<line x1="489.6" y1="538" x2="489.6" y2="585"/>
<line x1="493.4" y1="538" x2="493.4" y2="585"/>
<line x1="500.2" y1="538" x2="500.2" y2="585"/>
<line x1="501.4" y1="538" x2="501.4" y2="585"/>
<line x1="508.4" y1="538" x2="508.4" y2="585"/>
<line x1="519.1" y1="538" x2="519.1" y2="585"/>
<line x1="522.9" y1="538" x2="522.9" y2="585"/>
<line x1="529.6" y1="538" x2="529.6" y2="585"/>
<line x1="535.8" y1="538" x2="535.8" y2="585"/>
<line x1="537.0" y1="538" x2="537.0" y2="585"/>
<line x1="553.2" y1="538" x2="553.2" y2="585"/>
<line x1="554.4" y1="538" x2="554.4" y2="585"/>
<line x1="570.4" y1="538" x2="570.4" y2="585"/>
<line x1="581.0" y1="538" x2="581.0" y2="585"/>
<line x1="596.9" y1="538" x2="596.9" y2="585"/>
<line x1="632.4" y1="538" x2="632.4" y2="585"/>
<line x1="657.5" y1="538" x2="657.5" y2="585"/>
<line x1="448.0" y1="588" x2="448.0" y2="635"/>
<line x1="457.1" y1="588" x2="457.1" y2="635"/>
<line x1="458.3" y1="588" x2="458.3" y2="635"/>
<line x1="469.7" y1="588" x2="469.7" y2="635"/>
<line x1="472.7" y1="588" x2="472.7" y2="635"/>
<line x1="473.9" y1="588" x2="473.9" y2="635"/>
<line x1="482.8" y1="588" x2="482.8" y2="635"/>
<line x1="489.6" y1="588" x2="489.6" y2="635"/>
<line x1="493.4" y1="588" x2="493.4" y2="635"/>
<line x1="500.2" y1="588" x2="500.2" y2="635"/>
<line x1="501.4" y1="588" x2="501.4" y2="635"/>
<line x1="508.4" y1="588" x2="508.4" y2="635"/>
<line x1="519.1" y1="588" x2="519.1" y2="635"/>
<line x1="522.9" y1="588" x2="522.9" y2="635"/>
<line x1="529.6" y1="588" x2="529.6" y2="635"/>
<line x1="535.8" y1="588" x2="535.8" y2="635"/>
<line x1="537.0" y1="588" x2="537.0" y2="635"/>
<line x1="553.2" y1="588" x2="553.2" y2="635"/>
<line x1="554.4" y1="588" x2="554.4" y2="635"/>
<line x1="570.4" y1="588" x2="570.4" y2="635"/>
<line x1="581.0" y1="588" x2="581.0" y2="635"/>
<line x1="596.9" y1="588" x2="596.9" y2="635"/>
<line x1="632.4" y1="588" x2="632.4" y2="635"/>
<line x1="657.5" y1="588" x2="657.5" y2="635"/>
<line x1="448.0" y1="638" x2="448.0" y2="685"/>
<line x1="457.1" y1="638" x2="457.1" y2="685"/>
<line x1="458.3" y1="638" x2="458.3" y2="685"/>
<line x1="469.7" y1="638" x2="469.7" y2="685"/>
<line x1="472.7" y1="638" x2="472.7" y2="685"/>
<line x1="473.9" y1="638" x2="473.9" y2="685"/>
<line x1="482.8" y1="638" x2="482.8" y2="685"/>
<line x1="489.6" y1="638" x2="489.6" y2="685"/>
<line x1="493.4" y1="638" x2="493.4" y2="685"/>
<line x1="500.2" y1="638" x2="500.2" y2="685"/>
<line x1="501.4" y1="638" x2="501.4" y2="685"/>
<line x1="508.4" y1="638" x2="508.4" y2="685"/>
<line x1="519.1" y1="638" x2="519.1" y2="685"/>
<line x1="522.9" y1="638" x2="522.9" y2="685"/>
<line x1="529.6" y1="638" x2="529.6" y2="685"/>
<line x1="535.8" y1="638" x2="535.8" y2="685"/>
<line x1="537.0" y1="638" x2="537.0" y2="685"/>
<line x1="553.2" y1="638" x2="553.2" y2="685"/>
<line x1="554.4" y1="638" x2="554.4" y2="685"/>
<line x1="570.4" y1="638" x2="570.4" y2="685"/>
<line x1="581.0" y1="638" x2="581.0" y2="685"/>
<line x1="596.9" y1="638" x2="596.9" y2="685"/>
<line x1="632.4" y1="638" x2="632.4" y2="685"/>
<line x1="657.5" y1="638" x2="657.5" y2="685"/>
<line x1="448.0" y1="688" x2="448.0" y2="735"/>
<line x1="457.1" y1="688" x2="457.1" y2="735"/>
<line x1="458.3" y1="688" x2="458.3" y2="735"/>
<line x1="469.7" y1="688" x2="469.7" y2="735"/>
<line x1="472.7" y1="688" x2="472.7" y2="735"/>
<line x1="473.9" y1="688" x2="473.9" y2="735"/>
<line x1="482.8" y1="688" x2="482.8" y2="735"/>
<line x1="489.6" y1="688" x2="489.6" y2="735"/>
<line x1="493.4" y1="688" x2="493.4" y2="735"/>
<line x1="500.2" y1="688" x2="500.2" y2="735"/>
<line x1="501.4" y1="688" x2="501.4" y2="735"/>
<line x1="508.4" y1="688" x2="508.4" y2="735"/>
<line x1="519.1" y1="688" x2="519.1" y2="735"/>
<line x1="522.9" y1="688" x2="522.9" y2="735"/>
<line x1="529.6" y1="688" x2="529.6" y2="735"/>
<line x1="535.8" y1="688" x2="535.8" y2="735"/>
<line x1="537.0" y1="688" x2="537.0" y2="735"/>
<line x1="553.2" y1="688" x2="553.2" y2="735"/>
<line x1="554.4" y1="688" x2="554.4" y2="735"/>
<line x1="570.4" y1="688" x2="570.4" y2="735"/>
<line x1="581.0" y1="688" x2="581.0" y2="735"/>
<line x1="596.9" y1="688" x2="596.9" y2="735"/>
<line x1="632.4" y1="688" x2="632.4" y2="735"/>
<line x1="657.5" y1="688" x2="657.5" y2="735"/>
<line x1="448.0" y1="738" x2="448.0" y2="785"/>
<line x1="457.1" y1="738" x2="457.1" y2="785"/>
<line x1="458.3" y1="738" x2="458.3" y2="785"/>
<line x1="469.7" y1="738" x2="469.7" y2="785"/>
<line x1="472.7" y1="738" x2="472.7" y2="785"/>
<line x1="473.9" y1="738" x2="473.9" y2="785"/>
<line x1="482.8" y1="738" x2="482.8" y2="785"/>
<line x1="489.6" y1="738" x2="489.6" y2="785"/>
<line x1="493.4" y1="738" x2="493.4" y2="785"/>
<line x1="500.2" y1="738" x2="500.2" y2="785"/>
<line x1="501.4" y1="738" x2="501.4" y2="785"/>
<line x1="508.4" y1="738" x2="508.4" y2="785"/>
<line x1="519.1" y1="738" x2="519.1" y2="785"/>
<line x1="522.9" y1="738" x2="522.9" y2="785"/>
<line x1="529.6" y1="738" x2="529.6" y2="785"/>
<line x1="535.8" y1="738" x2="535.8" y2="785"/>
<line x1="537.0" y1="738" x2="537.0" y2="785"/>
<line x1="553.2" y1="738" x2="553.2" y2="785"/>
<line x1="554.4" y1="738" x2="554.4" y2="785"/>
<line x1="570.4" y1="738" x2="570.4" y2="785"/>
<line x1="581.0" y1="738" x2="581.0" y2="785"/>
<line x1="596.9" y1="738" x2="596.9" y2="785"/>
<line x1="632.4" y1="738" x2="632.4" y2="785"/>
<line x1="657.5" y1="738" x2="657.5" y2="785"/>
<line x1="448.0" y1="788" x2="448.0" y2="835"/>
<line x1="457.1" y1="788" x2="457.1" y2="835"/>
<line x1="458.3" y1="788" x2="458.3" y2="835"/>
<line x1="469.7" y1="788" x2="469.7" y2="835"/>
<line x1="472.7" y1="788" x2="472.7" y2="835"/>
<line x1="473.9" y1="788" x2="473.9" y2="835"/>
<line x1="482.8" y1="788" x2="482.8" y2="835"/>
<line x1="489.6" y1="788" x2="489.6" y2="835"/>
<line x1="493.4" y1="788" x2="493.4" y2="835"/>
<line x1="500.2" y1="788" x2="500.2" y2="835"/>
<line x1="501.4" y1="788" x2="501.4" y2="835"/>
<line x1="508.4" y1="788" x2="508.4" y2="835"/>
<line x1="519.1" y1="788" x2="519.1" y2="835"/>
<line x1="522.9" y1="788" x2="522.9" y2="835"/>
<line x1="529.6" y1="788" x2="529.6" y2="835"/>
<line x1="535.8" y1="788" x2="535.8" y2="835"/>
<line x1="537.0" y1="788" x2="537.0" y2="835"/>
<line x1="553.2" y1="788" x2="553.2" y2="835"/>
<line x1="554.4" y1="788" x2="554.4" y2="835"/>
<line x1="570.4" y1="788" x2="570.4" y2="835"/>
<line x1="581.0" y1="788" x2="581.0" y2="835"/>
<line x1="596.9" y1="788" x2="596.9" y2="835"/>
<line x1="632.4" y1="788" x2="632.4" y2="835"/>
<line x1="657.5" y1="788" x2="657.5" y2="835"/>
<line x1="448.0" y1="838" x2="448.0" y2="885"/>
<line x1="457.1" y1="838" x2="457.1" y2="885"/>
<line x1="458.3" y1="838" x2="458.3" y2="885"/>
<line x1="469.7" y1="838" x2="469.7" y2="885"/>
<line x1="472.7" y1="838" x2="472.7" y2="885"/>
<line x1="473.9" y1="838" x2="473.9" y2="885"/>
<line x1="482.8" y1="838" x2="482.8" y2="885"/>
<line x1="489.6" y1="838" x2="489.6" y2="885"/>
<line x1="493.4" y1="838" x2="493.4" y2="885"/>
<line x1="500.2" y1="838" x2="500.2" y2="885"/>
<line x1="501.4" y1="838" x2="501.4" y2="885"/>
<line x1="508.4" y1="838" x2="508.4" y2="885"/>
<line x1="519.1" y1="838" x2="519.1" y2="885"/>
<line x1="522.9" y1="838" x2="522.9" y2="885"/>
<line x1="529.6" y1="838" x2="529.6" y2="885"/>
<line x1="535.8" y1="838" x2="535.8" y2="885"/>
<line x1="537.0" y1="838" x2="537.0" y2="885"/>
<line x1="553.2" y1="838" x2="553.2" y2="885"/>
<line x1="554.4" y1="838" x2="554.4" y2="885"/>
<line x1="570.4" y1="838" x2="570.4" y2="885"/>
<line x1="581.0" y1="838" x2="581.0" y2="885"/>
<line x1="596.9" y1="838" x2="596.9" y2="885"/>
<line x1="632.4" y1="838" x2="632.4" y2="885"/>
<line x1="657.5" y1="838" x2="657.5" y2="885"/>
<line x1="448.0" y1="888" x2="448.0" y2="935"/>
<line x1="457.1" y1="888" x2="457.1" y2="935"/>
<line x1="458.3" y1="888" x2="458.3" y2="935"/>
<line x1="469.7" y1="888" x2="469.7" y2="935"/>
<line x1="472.7" y1="888" x2="472.7" y2="935"/>
<line x1="473.9" y1="888" x2="473.9" y2="935"/>
<line x1="482.8" y1="888" x2="482.8" y2="935"/>
<line x1="489.6" y1="888" x2="489.6" y2="935"/>
<line x1="493.4" y1="888" x2="493.4" y2="935"/>
<line x1="500.2" y1="888" x2="500.2" y2="935"/>
<line x1="501.4" y1="888" x2="501.4" y2="935"/>
<line x1="508.4" y1="888" x2="508.4" y2="935"/>
<line x1="519.1" y1="888" x2="519.1" y2="935"/>
<line x1="522.9" y1="888" x2="522.9" y2="935"/>
<line x1="529.6" y1="888" x2="529.6" y2="935"/>
<line x1="535.8" y1="888" x2="535.8" y2="935"/>
<line x1="537.0" y1="888" x2="537.0" y2="935"/>
<line x1="553.2" y1="888" x2="553.2" y2="935"/>
<line x1="554.4" y1="888" x2="554.4" y2="935"/>
<line x1="570.4" y1="888" x2="570.4" y2="935"/>
<line x1="581.0" y1="888" x2="581.0" y2="935"/>
<line x1="596.9" y1="888" x2="596.9" y2="935"/>
<line x1="632.4" y1="888" x2="632.4" y2="935"/>
<line x1="657.5" y1="888" x2="657.5" y2="935"/>
<line x1="448.0" y1="938" x2="448.0" y2="985"/>
<line x1="457.1" y1="938" x2="457.1" y2="985"/>
<line x1="458.3" y1="938" x2="458.3" y2="985"/>
<line x1="469.7" y1="938" x2="469.7" y2="985"/>
<line x1="472.7" y1="938" x2="472.7" y2="985"/>
<line x1="473.9" y1="938" x2="473.9" y2="985"/>
<line x1="482.8" y1="938" x2="482.8" y2="985"/>
<line x1="489.6" y1="938" x2="489.6" y2="985"/>
<line x1="493.4" y1="938" x2="493.4" y2="985"/>
<line x1="500.2" y1="938" x2="500.2" y2="985"/>
<line x1="501.4" y1="938" x2="501.4" y2="985"/>
<line x1="508.4" y1="938" x2="508.4" y2="985"/>
<line x1="519.1" y1="938" x2="519.1" y2="985"/>
<line x1="522.9" y1="938" x2="522.9" y2="985"/>
<line x1="529.6" y1="938" x2="529.6" y2="985"/>
<line x1="535.8" y1="938" x2="535.8" y2="985"/>
<line x1="537.0" y1="938" x2="537.0" y2="985"/>
<line x1="553.2" y1="938" x2="553.2" y2="985"/>
<line x1="554.4" y1="938" x2="554.4" y2="985"/>
<line x1="570.4" y1="938" x2="570.4" y2="985"/>
<line x1="581.0" y1="938" x2="581.0" y2="985"/>
<line x1="596.9" y1="938" x2="596.9" y2="985"/>
<line x1="632.4" y1="938" x2="632.4" y2="985"/>
<line x1="657.5" y1="938" x2="657.5" y2="985"/>
<line x1="448.0" y1="988" x2="448.0" y2="1035"/>
<line x1="457.1" y1="988" x2="457.1" y2="1035"/>
<line x1="458.3" y1="988" x2="458.3" y2="1035"/>
<line x1="469.7" y1="988" x2="469.7" y2="1035"/>
<line x1="472.7" y1="988" x2="472.7" y2="1035"/>
<line x1="473.9" y1="988" x2="473.9" y2="1035"/>
<line x1="482.8" y1="988" x2="482.8" y2="1035"/>
<line x1="489.6" y1="988" x2="489.6" y2="1035"/>
<line x1="493.4" y1="988" x2="493.4" y2="1035"/>
<line x1="500.2" y1="988" x2="500.2" y2="1035"/>
<line x1="501.4" y1="988" x2="501.4" y2="1035"/>
<line x1="508.4" y1="988" x2="508.4" y2="1035"/>
<line x1="519.1" y1="988" x2="519.1" y2="1035"/>
<line x1="522.9" y1="988" x2="522.9" y2="1035"/>
<line x1="529.6" y1="988" x2="529.6" y2="1035"/>
<line x1="535.8" y1="988" x2="535.8" y2="1035"/>
<line x1="537.0" y1="988" x2="537.0" y2="1035"/>
<line x1="553.2" y1="988" x2="553.2" y2="1035"/>
<line x1="554.4" y1="988" x2="554.4" y2="1035"/>
<line x1="570.4" y1="988" x2="570.4" y2="1035"/>
<line x1="581.0" y1="988" x2="581.0" y2="1035"/>
<line x1="596.9" y1="988" x2="596.9" y2="1035"/>
<line x1="632.4" y1="988" x2="632.4" y2="1035"/>
<line x1="657.5" y1="988" x2="657.5" y2="1035"/>
<line x1="448.0" y1="1038" x2="448.0" y2="1085"/>
<line x1="457.1" y1="1038" x2="457.1" y2="1085"/>
<line x1="458.3" y1="1038" x2="458.3" y2="1085"/>
<line x1="469.7" y1="1038" x2="469.7" y2="1085"/>
<line x1="472.7" y1="1038" x2="472.7" y2="1085"/>
<line x1="473.9" y1="1038" x2="473.9" y2="1085"/>
<line x1="482.8" y1="1038" x2="482.8" y2="1085"/>
<line x1="489.6" y1="1038" x2="489.6" y2="1085"/>
<line x1="493.4" y1="1038" x2="493.4" y2="1085"/>
<line x1="500.2" y1="1038" x2="500.2" y2="1085"/>
<line x1="501.4" y1="1038" x2="501.4" y2="1085"/>
<line x1="508.4" y1="1038" x2="508.4" y2="1085"/>
<line x1="519.1" y1="1038" x2="519.1" y2="1085"/>
<line x1="522.9" y1="1038" x2="522.9" y2="1085"/>
<line x1="529.6" y1="1038" x2="529.6" y2="1085"/>
<line x1="535.8" y1="1038" x2="535.8" y2="1085"/>
<line x1="537.0" y1="1038" x2="537.0" y2="1085"/>
<line x1="553.2" y1="1038" x2="553.2" y2="1085"/>
<line x1="554.4" y1="1038" x2="554.4" y2="1085"/>
<line x1="570.4" y1="1038" x2="570.4" y2="1085"/>
<line x1="581.0" y1="1038" x2="581.0" y2="1085"/>
<line x1="596.9" y1="1038" x2="596.9" y2="1085"/>
<line x1="632.4" y1="1038" x2="632.4" y2="1085"/>
<line x1="657.5" y1="1038" x2="657.5" y2="1085"/>
<line x1="448.0" y1="1088" x2="448.0" y2="1135"/>
<line x1="457.1" y1="1088" x2="457.1" y2="1135"/>
<line x1="458.3" y1="1088" x2="458.3" y2="1135"/>
<line x1="469.7" y1="1088" x2="469.7" y2="1135"/>
<line x1="472.7" y1="1088" x2="472.7" y2="1135"/>
<line x1="473.9" y1="1088" x2="473.9" y2="1135"/>
<line x1="482.8" y1="1088" x2="482.8" y2="1135"/>
<line x1="489.6" y1="1088" x2="489.6" y2="1135"/>
<line x1="493.4" y1="1088" x2="493.4" y2="1135"/>
<line x1="500.2" y1="1088" x2="500.2" y2="1135"/>
<line x1="501.4" y1="1088" x2="501.4" y2="1135"/>
<line x1="508.4" y1="1088" x2="508.4" y2="1135"/>
<line x1="519.1" y1="1088" x2="519.1" y2="1135"/>
<line x1="522.9" y1="1088" x2="522.9" y2="1135"/>
<line x1="529.6" y1="1088" x2="529.6" y2="1135"/>
<line x1="535.8" y1="1088" x2="535.8" y2="1135"/>
<line x1="537.0" y1="1088" x2="537.0" y2="1135"/>
<line x1="553.2" y1="1088" x2="553.2" y2="1135"/>
<line x1="554.4" y1="1088" x2="554.4" y2="1135"/>
<line x1="570.4" y1="1088" x2="570.4" y2="1135"/>
<line x1="581.0" y1="1088" x2="581.0" y2="1135"/>
<line x1="596.9" y1="1088" x2="596.9" y2="1135"/>
<line x1="632.4" y1="1088" x2="632.4" y2="1135"/>
<line x1="657.5" y1="1088" x2="657.5" y2="1135"/>
<line x1="448.0" y1="1138" x2="448.0" y2="1185"/>
<line x1="457.1" y1="1138" x2="457.1" y2="1185"/>
<line x1="458.3" y1="1138" x2="458.3" y2="1185"/>
<line x1="469.7" y1="1138" x2="469.7" y2="1185"/>
<line x1="472.7" y1="1138" x2="472.7" y2="1185"/>
<line x1="473.9" y1="1138" x2="473.9" y2="1185"/>
<line x1="482.8" y1="1138" x2="482.8" y2="1185"/>
<line x1="489.6" y1="1138" x2="489.6" y2="1185"/>
<line x1="493.4" y1="1138" x2="493.4" y2="1185"/>
<line x1="500.2" y1="1138" x2="500.2" y2="1185"/>
<line x1="501.4" y1="1138" x2="501.4" y2="1185"/>
<line x1="508.4" y1="1138" x2="508.4" y2="1185"/>
<line x1="519.1" y1="1138" x2="519.1" y2="1185"/>
<line x1="522.9" y1="1138" x2="522.9" y2="1185"/>
<line x1="529.6" y1="1138" x2="529.6" y2="1185"/>
<line x1="535.8" y1="1138" x2="535.8" y2="1185"/>
<line x1="537.0" y1="1138" x2="537.0" y2="1185"/>
<line x1="553.2" y1="1138" x2="553.2" y2="1185"/>
<line x1="554.4" y1="1138" x2="554.4" y2="1185"/>
<line x1="570.4" y1="1138" x2="570.4" y2="1185"/>
<line x1="581.0" y1="1138" x2="581.0" y2="1185"/>
<line x1="596.9" y1="1138" x2="596.9" y2="1185"/>
<line x1="632.4" y1="1138" x2="632.4" y2="1185"/>
<line x1="657.5" y1="1138" x2="657.5" y2="1185"/>
<line x1="448.0" y1="1188" x2="448.0" y2="1235"/>
<line x1="457.1" y1="1188" x2="457.1" y2="1235"/>
<line x1="458.3" y1="1188" x2="458.3" y2="1235"/>
<line x1="469.7" y1="1188" x2="469.7" y2="1235"/>
<line x1="472.7" y1="1188" x2="472.7" y2="1235"/>
<line x1="473.9" y1="1188" x2="473.9" y2="1235"/>
<line x1="482.8" y1="1188" x2="482.8" y2="1235"/>
<line x1="489.6" y1="1188" x2="489.6" y2="1235"/>
<line x1="493.4" y1="1188" x2="493.4" y2="1235"/>
<line x1="500.2" y1="1188" x2="500.2" y2="1235"/>
<line x1="501.4" y1="1188" x2="501.4" y2="1235"/>
<line x1="508.4" y1="1188" x2="508.4" y2="1235"/>
<line x1="519.1" y1="1188" x2="519.1" y2="1235"/>
<line x1="522.9" y1="1188" x2="522.9" y2="1235"/>
<line x1="529.6" y1="1188" x2="529.6" y2="1235"/>
<line x1="535.8" y1="1188" x2="535.8" y2="1235"/>
<line x1="537.0" y1="1188" x2="537.0" y2="1235"/>
<line x1="553.2" y1="1188" x2="553.2" y2="1235"/>
<line x1="554.4" y1="1188" x2="554.4" y2="1235"/>
<line x1="570.4" y1="1188" x2="570.4" y2="1235"/>
<line x1="581.0" y1="1188" x2="581.0" y2="1235"/>
<line x1="596.9" y1="1188" x2="596.9" y2="1235"/>
<line x1="632.4" y1="1188" x2="632.4" y2="1235"/>
<line x1="657.5" y1="1188" x2="657.5" y2="1235"/>
<line x1="448.0" y1="1238" x2="448.0" y2="1285"/>
<line x1="457.1" y1="1238" x2="457.1" y2="1285"/>
<line x1="458.3" y1="1238" x2="458.3" y2="1285"/>
<line x1="469.7" y1="1238" x2="469.7" y2="1285"/>
<line x1="472.7" y1="1238" x2="472.7" y2="1285"/>
<line x1="473.9" y1="1238" x2="473.9" y2="1285"/>
<line x1="482.8" y1="1238" x2="482.8" y2="1285"/>
<line x1="489.6" y1="1238" x2="489.6" y2="1285"/>
<line x1="493.4" y1="1238" x2="493.4" y2="1285"/>
<line x1="500.2" y1="1238" x2="500.2" y2="1285"/>
<line x1="501.4" y1="1238" x2="501.4" y2="1285"/>
<line x1="508.4" y1="1238" x2="508.4" y2="1285"/>
<line x1="519.1" y1="1238" x2="519.1" y2="1285"/>
<line x1="522.9" y1="1238" x2="522.9" y2="1285"/>
<line x1="529.6" y1="1238" x2="529.6" y2="1285"/>
<line x1="535.8" y1="1238" x2="535.8" y2="1285"/>
<line x1="537.0" y1="1238" x2="537.0" y2="1285"/>
<line x1="553.2" y1="1238" x2="553.2" y2="1285"/>
<line x1="554.4" y1="1238" x2="554.4" y2="1285"/>
<line x1="570.4" y1="1238" x2="570.4" y2="1285"/>
<line x1="581.0" y1="1238" x2="581.0" y2="1285"/>
<line x1="596.9" y1="1238" x2="596.9" y2="1285"/>
<line x1="632.4" y1="1238" x2="632.4" y2="1285"/>
<line x1="657.5" y1="1238" x2="657.5" y2="1285"/>
<line x1="448.0" y1="1288" x2="448.0" y2="1335"/>
<line x1="457.1" y1="1288" x2="457.1" y2="1335"/>
<line x1="458.3" y1="1288" x2="458.3" y2="1335"/>
<line x1="469.7" y1="1288" x2="469.7" y2="1335"/>
<line x1="472.7" y1="1288" x2="472.7" y2="1335"/>
<line x1="473.9" y1="1288" x2="473.9" y2="1335"/>
<line x1="482.8" y1="1288" x2="482.8" y2="1335"/>
<line x1="489.6" y1="1288" x2="489.6" y2="1335"/>
<line x1="493.4" y1="1288" x2="493.4" y2="1335"/>
<line x1="500.2" y1="1288" x2="500.2" y2="1335"/>
<line x1="501.4" y1="1288" x2="501.4" y2="1335"/>
<line x1="508.4" y1="1288" x2="508.4" y2="1335"/>
<line x1="519.1" y1="1288" x2="519.1" y2="1335"/>
<line x1="522.9" y1="1288" x2="522.9" y2="1335"/>
<line x1="529.6" y1="1288" x2="529.6" y2="1335"/>
<line x1="535.8" y1="1288" x2="535.8" y2="1335"/>
<line x1="537.0" y1="1288" x2="537.0" y2="1335"/>
<line x1="553.2" y1="1288" x2="553.2" y2="1335"/>
<line x1="554.4" y1="1288" x2="554.4" y2="1335"/>
<line x1="570.4" y1="1288" x2="570.4" y2="1335"/>
<line x1="581.0" y1="1288" x2="581.0" y2="1335"/>
<line x1="596.9" y1="1288" x2="596.9" y2="1335"/>
<line x1="632.4" y1="1288" x2="632.4" y2="1335"/>
<line x1="657.5" y1="1288" x2="657.5" y2="1335"/>
<line x1="448.0" y1="1338" x2="448.0" y2="1385"/>
<line x1="457.1" y1="1338" x2="457.1" y2="1385"/>
<line x1="458.3" y1="1338" x2="458.3" y2="1385"/>
<line x1="469.7" y1="1338" x2="469.7" y2="1385"/>
<line x1="472.7" y1="1338" x2="472.7" y2="1385"/>
<line x1="473.9" y1="1338" x2="473.9" y2="1385"/>
<line x1="482.8" y1="1338" x2="482.8" y2="1385"/>
<line x1="489.6" y1="1338" x2="489.6" y2="1385"/>
<line x1="493.4" y1="1338" x2="493.4" y2="1385"/>
<line x1="500.2" y1="1338" x2="500.2" y2="1385"/>
<line x1="501.4" y1="1338" x2="501.4" y2="1385"/>
<line x1="508.4" y1="1338" x2="508.4" y2="1385"/>
<line x1="519.1" y1="1338" x2="519.1" y2="1385"/>
<line x1="522.9" y1="1338" x2="522.9" y2="1385"/>
<line x1="529.6" y1="1338" x2="529.6" y2="1385"/>
<line x1="535.8" y1="1338" x2="535.8" y2="1385"/>
<line x1="537.0" y1="1338" x2="537.0" y2="1385"/>
<line x1="553.2" y1="1338" x2="553.2" y2="1385"/>
<line x1="554.4" y1="1338" x2="554.4" y2="1385"/>
<line x1="570.4" y1="1338" x2="570.4" y2="1385"/>
<line x1="581.0" y1="1338" x2="581.0" y2="1385"/>
<line x1="596.9" y1="1338" x2="596.9" y2="1385"/>
<line x1="632.4" y1="1338" x2="632.4" y2="1385"/>
<line x1="657.5" y1="1338" x2="657.5" y2="1385"/>
<line x1="448.0" y1="1388" x2="448.0" y2="1435"/>
<line x1="457.1" y1="1388" x2="457.1" y2="1435"/>
<line x1="458.3" y1="1388" x2="458.3" y2="1435"/>
<line x1="469.7" y1="1388" x2="469.7" y2="1435"/>
<line x1="472.7" y1="1388" x2="472.7" y2="1435"/>
<line x1="473.9" y1="1388" x2="473.9" y2="1435"/>
<line x1="482.8" y1="1388" x2="482.8" y2="1435"/>
<line x1="489.6" y1="1388" x2="489.6" y2="1435"/>
<line x1="493.4" y1="1388" x2="493.4" y2="1435"/>
<line x1="500.2" y1="1388" x2="500.2" y2="1435"/>
<line x1="501.4" y1="1388" x2="501.4" y2="1435"/>
<line x1="508.4" y1="1388" x2="508.4" y2="1435"/>
<line x1="519.1" y1="1388" x2="519.1" y2="1435"/>
<line x1="522.9" y1="1388" x2="522.9" y2="1435"/>
<line x1="529.6" y1="1388" x2="529.6" y2="1435"/>
<line x1="535.8" y1="1388" x2="535.8" y2="1435"/>
<line x1="537.0" y1="1388" x2="537.0" y2="1435"/>
<line x1="553.2" y1="1388" x2="553.2" y2="1435"/>
<line x1="554.4" y1="1388" x2="554.4" y2="1435"/>
<line x1="570.4" y1="1388" x2="570.4" y2="1435"/>
<line x1="581.0" y1="1388" x2="581.0" y2="1435"/>
<line x1="596.9" y1="1388" x2="596.9" y2="1435"/>
<line x1="632.4" y1="1388" x2="632.4" y2="1435"/>
<line x1="657.5" y1="1388" x2="657.5" y2="1435"/>
<line x1="448.0" y1="1438" x2="448.0" y2="1485"/>
<line x1="457.1" y1="1438" x2="457.1" y2="1485"/>
<line x1="458.3" y1="1438" x2="458.3" y2="1485"/>
<line x1="469.7" y1="1438" x2="469.7" y2="1485"/>
<line x1="472.7" y1="1438" x2="472.7" y2="1485"/>
<line x1="473.9" y1="1438" x2="473.9" y2="1485"/>
<line x1="482.8" y1="1438" x2="482.8" y2="1485"/>
<line x1="489.6" y1="1438" x2="489.6" y2="1485"/>
<line x1="493.4" y1="1438" x2="493.4" y2="1485"/>
<line x1="500.2" y1="1438" x2="500.2" y2="1485"/>
<line x1="501.4" y1="1438" x2="501.4" y2="1485"/>
<line x1="508.4" y1="1438" x2="508.4" y2="1485"/>
<line x1="519.1" y1="1438" x2="519.1" y2="1485"/>
<line x1="522.9" y1="1438" x2="522.9" y2="1485"/>
<line x1="529.6" y1="1438" x2="529.6" y2="1485"/>
<line x1="535.8" y1="1438" x2="535.8" y2="1485"/>
<line x1="537.0" y1="1438" x2="537.0" y2="1485"/>
<line x1="553.2" y1="1438" x2="553.2" y2="1485"/>
<line x1="554.4" y1="1438" x2="554.4" y2="1485"/>
<line x1="570.4" y1="1438" x2="570.4" y2="1485"/>
<line x1="581.0" y1="1438" x2="581.0" y2="1485"/>
<line x1="596.9" y1="1438" x2="596.9" y2="1485"/>
<line x1="632.4" y1="1438" x2="632.4" y2="1485"/>
<line x1="657.5" y1="1438" x2="657.5" y2="1485"/>
<line x1="448.0" y1="1488" x2="448.0" y2="1535"/>
<line x1="457.1" y1="1488" x2="457.1" y2="1535"/>
<line x1="458.3" y1="1488" x2="458.3" y2="1535"/>
<line x1="469.7" y1="1488" x2="469.7" y2="1535"/>
<line x1="472.7" y1="1488" x2="472.7" y2="1535"/>
<line x1="473.9" y1="1488" x2="473.9" y2="1535"/>
<line x1="482.8" y1="1488" x2="482.8" y2="1535"/>
<line x1="489.6" y1="1488" x2="489.6" y2="1535"/>
<line x1="493.4" y1="1488" x2="493.4" y2="1535"/>
<line x1="500.2" y1="1488" x2="500.2" y2="1535"/>
<line x1="501.4" y1="1488" x2="501.4" y2="1535"/>
<line x1="508.4" y1="1488" x2="508.4" y2="1535"/>
<line x1="519.1" y1="1488" x2="519.1" y2="1535"/>
<line x1="522.9" y1="1488" x2="522.9" y2="1535"/>
<line x1="529.6" y1="1488" x2="529.6" y2="1535"/>
<line x1="535.8" y1="1488" x2="535.8" y2="1535"/>
<line x1="537.0" y1="1488" x2="537.0" y2="1535"/>
<line x1="553.2" y1="1488" x2="553.2" y2="1535"/>
<line x1="554.4" y1="1488" x2="554.4" y2="1535"/>
<line x1="570.4" y1="1488" x2="570.4" y2="1535"/>
<line x1="581.0" y1="1488" x2="581.0" y2="1535"/>
<line x1="596.9" y1="1488" x2="596.9" y2="1535"/>
<line x1="632.4" y1="1488" x2="632.4" y2="1535"/>
<line x1="657.5" y1="1488" x2="657.5" y2="1535"/>
<line x1="448.0" y1="1538" x2="448.0" y2="1585"/>
<line x1="457.1" y1="1538" x2="457.1" y2="1585"/>
<line x1="458.3" y1="1538" x2="458.3" y2="1585"/>
<line x1="469.7" y1="1538" x2="469.7" y2="1585"/>
<line x1="472.7" y1="1538" x2="472.7" y2="1585"/>
<line x1="473.9" y1="1538" x2="473.9" y2="1585"/>
<line x1="482.8" y1="1538" x2="482.8" y2="1585"/>
<line x1="489.6" y1="1538" x2="489.6" y2="1585"/>
<line x1="493.4" y1="1538" x2="493.4" y2="1585"/>
<line x1="500.2" y1="1538" x2="500.2" y2="1585"/>
<line x1="501.4" y1="1538" x2="501.4" y2="1585"/>
<line x1="508.4" y1="1538" x2="508.4" y2="1585"/>
<line x1="519.1" y1="1538" x2="519.1" y2="1585"/>
<line x1="522.9" y1="1538" x2="522.9" y2="1585"/>
<line x1="529.6" y1="1538" x2="529.6" y2="1585"/>
<line x1="535.8" y1="1538" x2="535.8" y2="1585"/>
<line x1="537.0" y1="1538" x2="537.0" y2="1585"/>
<line x1="553.2" y1="1538" x2="553.2" y2="1585"/>
<line x1="554.4" y1="1538" x2="554.4" y2="1585"/>
<line x1="570.4" y1="1538" x2="570.4" y2="1585"/>
<line x1="581.0" y1="1538" x2="581.0" y2="1585"/>
<line x1="596.9" y1="1538" x2="596.9" y2="1585"/>
<line x1="632.4" y1="1538" x2="632.4" y2="1585"/>
<line x1="657.5" y1="1538" x2="657.5" y2="1585"/>
<line x1="448.0" y1="1588" x2="448.0" y2="1635"/>
<line x1="457.1" y1="1588" x2="457.1" y2="1635"/>
<line x1="458.3" y1="1588" x2="458.3" y2="1635"/>
<line x1="469.7" y1="1588" x2="469.7" y2="1635"/>
<line x1="472.7" y1="1588" x2="472.7" y2="1635"/>
<line x1="473.9" y1="1588" x2="473.9" y2="1635"/>
<line x1="482.8" y1="1588" x2="482.8" y2="1635"/>
<line x1="489.6" y1="1588" x2="489.6" y2="1635"/>
<line x1="493.4" y1="1588" x2="493.4" y2="1635"/>
<line x1="500.2" y1="1588" x2="500.2" y2="1635"/>
<line x1="501.4" y1="1588" x2="501.4" y2="1635"/>
<line x1="508.4" y1="1588" x2="508.4" y2="1635"/>
<line x1="519.1" y1="1588" x2="519.1" y2="1635"/>
<line x1="522.9" y1="1588" x2="522.9" y2="1635"/>
<line x1="529.6" y1="1588" x2="529.6" y2="1635"/>
<line x1="535.8" y1="1588" x2="535.8" y2="1635"/>
<line x1="537.0" y1="1588" x2="537.0" y2="1635"/>
<line x1="553.2" y1="1588" x2="553.2" y2="1635"/>
<line x1="554.4" y1="1588" x2="554.4" y2="1635"/>
<line x1="570.4" y1="1588" x2="570.4" y2="1635"/>
<line x1="581.0" y1="1588" x2="581.0" y2="1635"/>
<line x1="596.9" y1="1588" x2="596.9" y2="1635"/>
<line x1="632.4" y1="1588" x2="632.4" y2="1635"/>
<line x1="657.5" y1="1588" x2="657.5" y2="1635"/>
<line x1="448.0" y1="1638" x2="448.0" y2="1685"/>
<line x1="457.1" y1="1638" x2="457.1" y2="1685"/>
<line x1="458.3" y1="1638" x2="458.3" y2="1685"/>
<line x1="469.7" y1="1638" x2="469.7" y2="1685"/>
<line x1="472.7" y1="1638" x2="472.7" y2="1685"/>
<line x1="473.9" y1="1638" x2="473.9" y2="1685"/>
<line x1="482.8" y1="1638" x2="482.8" y2="1685"/>
<line x1="489.6" y1="1638" x2="489.6" y2="1685"/>
<line x1="493.4" y1="1638" x2="493.4" y2="1685"/>
<line x1="500.2" y1="1638" x2="500.2" y2="1685"/>
<line x1="501.4" y1="1638" x2="501.4" y2="1685"/>
<line x1="508.4" y1="1638" x2="508.4" y2="1685"/>
<line x1="519.1" y1="1638" x2="519.1" y2="1685"/>
<line x1="522.9" y1="1638" x2="522.9" y2="1685"/>
<line x1="529.6" y1="1638" x2="529.6" y2="1685"/>
<line x1="535.8" y1="1638" x2="535.8" y2="1685"/>
<line x1="537.0" y1="1638" x2="537.0" y2="1685"/>
<line x1="553.2" y1="1638" x2="553.2" y2="1685"/>
<line x1="554.4" y1="1638" x2="554.4" y2="1685"/>
<line x1="570.4" y1="1638" x2="570.4" y2="1685"/>
<line x1="581.0" y1="1638" x2="581.0" y2="1685"/>
<line x1="596.9" y1="1638" x2="596.9" y2="1685"/>
<line x1="632.4" y1="1638" x2="632.4" y2="1685"/>
<line x1="657.5" y1="1638" x2="657.5" y2="1685"/>
<line x1="448.0" y1="1688" x2="448.0" y2="1735"/>
<line x1="457.1" y1="1688" x2="457.1" y2="1735"/>
<line x1="458.3" y1="1688" x2="458.3" y2="1735"/>
<line x1="469.7" y1="1688" x2="469.7" y2="1735"/>
<line x1="472.7" y1="1688" x2="472.7" y2="1735"/>
<line x1="473.9" y1="1688" x2="473.9" y2="1735"/>
<line x1="482.8" y1="1688" x2="482.8" y2="1735"/>
<line x1="489.6" y1="1688" x2="489.6" y2="1735"/>
<line x1="493.4" y1="1688" x2="493.4" y2="1735"/>
<line x1="500.2" y1="1688" x2="500.2" y2="1735"/>
<line x1="501.4" y1="1688" x2="501.4" y2="1735"/>
<line x1="508.4" y1="1688" x2="508.4" y2="1735"/>
<line x1="519.1" y1="1688" x2="519.1" y2="1735"/>
<line x1="522.9" y1="1688" x2="522.9" y2="1735"/>
<line x1="529.6" y1="1688" x2="529.6" y2="1735"/>
<line x1="535.8" y1="1688" x2="535.8" y2="1735"/>
<line x1="537.0" y1="1688" x2="537.0" y2="1735"/>
<line x1="553.2" y1="1688" x2="553.2" y2="1735"/>
<line x1="554.4" y1="1688" x2="554.4" y2="1735"/>
<line x1="570.4" y1="1688" x2="570.4" y2="1735"/>
<line x1="581.0" y1="1688" x2="581.0" y2="1735"/>
<line x1="596.9" y1="1688" x2="596.9" y2="1735"/>
<line x1="632.4" y1="1688" x2="632.4" y2="1735"/>
<line x1="657.5" y1="1688" x2="657.5" y2="1735"/>
<line x1="448.0" y1="1738" x2="448.0" y2="1785"/>
<line x1="457.1" y1="1738" x2="457.1" y2="1785"/>
<line x1="458.3" y1="1738" x2="458.3" y2="1785"/>
<line x1="469.7" y1="1738" x2="469.7" y2="1785"/>
<line x1="472.7" y1="1738" x2="472.7" y2="1785"/>
<line x1="473.9" y1="1738" x2="473.9" y2="1785"/>
<line x1="482.8" y1="1738" x2="482.8" y2="1785"/>
<line x1="489.6" y1="1738" x2="489.6" y2="1785"/>
<line x1="493.4" y1="1738" x2="493.4" y2="1785"/>
<line x1="500.2" y1="1738" x2="500.2" y2="1785"/>
<line x1="501.4" y1="1738" x2="501.4" y2="1785"/>
<line x1="508.4" y1="1738" x2="508.4" y2="1785"/>
<line x1="519.1" y1="1738" x2="519.1" y2="1785"/>
<line x1="522.9" y1="1738" x2="522.9" y2="1785"/>
<line x1="529.6" y1="1738" x2="529.6" y2="1785"/>
<line x1="535.8" y1="1738" x2="535.8" y2="1785"/>
<line x1="537.0" y1="1738" x2="537.0" y2="1785"/>
<line x1="553.2" y1="1738" x2="553.2" y2="1785"/>
<line x1="554.4" y1="1738" x2="554.4" y2="1785"/>
<line x1="570.4" y1="1738" x2="570.4" y2="1785"/>
<line x1="581.0" y1="1738" x2="581.0" y2="1785"/>
<line x1="596.9" y1="1738" x2="596.9" y2="1785"/>
<line x1="632.4" y1="1738" x2="632.4" y2="1785"/>
<line x1="657.5" y1="1738" x2="657.5" y2="1785"/>
<line x1="448.0" y1="1788" x2="448.0" y2="1835"/>
<line x1="457.1" y1="1788" x2="457.1" y2="1835"/>
<line x1="458.3" y1="1788" x2="458.3" y2="1835"/>
<line x1="469.7" y1="1788" x2="469.7" y2="1835"/>
<line x1="472.7" y1="1788" x2="472.7" y2="1835"/>
<line x1="473.9" y1="1788" x2="473.9" y2="1835"/>
<line x1="482.8" y1="1788" x2="482.8" y2="1835"/>
<line x1="489.6" y1="1788" x2="489.6" y2="1835"/>
<line x1="493.4" y1="1788" x2="493.4" y2="1835"/>
<line x1="500.2" y1="1788" x2="500.2" y2="1835"/>
<line x1="501.4" y1="1788" x2="501.4" y2="1835"/>
<line x1="508.4" y1="1788" x2="508.4" y2="1835"/>
<line x1="519.1" y1="1788" x2="519.1" y2="1835"/>
<line x1="522.9" y1="1788" x2="522.9" y2="1835"/>
<line x1="529.6" y1="1788" x2="529.6" y2="1835"/>
<line x1="535.8" y1="1788" x2="535.8" y2="1835"/>
<line x1="537.0" y1="1788" x2="537.0" y2="1835"/>
<line x1="553.2" y1="1788" x2="553.2" y2="1835"/>
<line x1="554.4" y1="1788" x2="554.4" y2="1835"/>
<line x1="570.4" y1="1788" x2="570.4" y2="1835"/>
<line x1="581.0" y1="1788" x2="581.0" y2="1835"/>
<line x1="596.9" y1="1788" x2="596.9" y2="1835"/>
<line x1="632.4" y1="1788" x2="632.4" y2="1835"/>
<line x1="657.5" y1="1788" x2="657.5" y2="1835"/>
</g>
<text x="453.5" y="108" text-anchor="middle" font-family="Liberation Sans, Arial, sans-serif" font-size="20" font-weight="bold" fill="#377eb8">Czech Republic</text>
<text x="659.0" y="83" text-anchor="middle" font-family="Liberation Sans, Arial, sans-serif" font-size="20" font-weight="bold" fill="#e41a1c">Bulgaria</text>
</svg>
</div></body></html>
